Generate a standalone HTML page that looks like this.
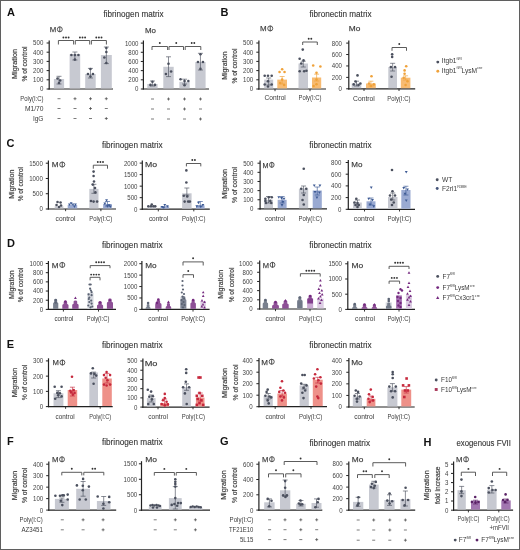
<!DOCTYPE html>
<html><head><meta charset="utf-8"><style>
html,body{margin:0;padding:0;background:#fff;}
.frame{position:absolute;left:0;top:0;width:518px;height:548px;border:1px solid #5f5f5f;}
body{width:520px;height:550px;overflow:hidden;position:relative;}
svg{display:block;font-family:"Liberation Sans", sans-serif;filter:blur(0.3px);}
.b{stroke:rgba(50,50,50,0.6);stroke-width:0.25px;}
.t{stroke:rgba(50,50,50,0.5);stroke-width:0.2px;}
</style></head><body>
<svg width="520" height="550" viewBox="0 0 520 550">
<rect x="0" y="0" width="520" height="550" fill="#fff"/>
<text x="10.9" y="16.1" font-size="11" font-weight="bold" fill="#111" text-anchor="middle">A</text>
<text class="t" x="103.5" y="17.3" font-size="8.3" fill="#333" textLength="60.0" lengthAdjust="spacingAndGlyphs">fibrinogen matrix</text>
<text class="b" transform="translate(16.5,64.0) rotate(-90)" x="0" y="0" font-size="7.2" fill="#3a3a3a" text-anchor="middle" textLength="30.0" lengthAdjust="spacingAndGlyphs">Migration</text>
<text class="b" transform="translate(26.6,64.0) rotate(-90)" x="0" y="0" font-size="7.2" fill="#3a3a3a" text-anchor="middle" textLength="35.1" lengthAdjust="spacingAndGlyphs">% of control</text>
<text class="b" x="49.8" y="32.1" font-size="7.6" fill="#3a3a3a" textLength="6.5" lengthAdjust="spacingAndGlyphs">M</text>
<ellipse cx="59.80" cy="29.33" rx="2.45" ry="2.52" fill="none" stroke="#3a3a3a" stroke-width="0.85"/>
<line x1="59.80" y1="26.66" x2="59.80" y2="32.00" stroke="#3a3a3a" stroke-width="0.9"/>
<line x1="49.20" y1="40.40" x2="49.20" y2="89.60" stroke="#222" stroke-width="1.2"/>
<line x1="48.60" y1="89.00" x2="113.00" y2="89.00" stroke="#222" stroke-width="1.2"/>
<line x1="46.60" y1="89.00" x2="49.20" y2="89.00" stroke="#222" stroke-width="1.0"/>
<text x="39.90" y="91.4" font-size="6.6" fill="#444" textLength="3.40" lengthAdjust="spacingAndGlyphs">0</text>
<line x1="46.60" y1="79.80" x2="49.20" y2="79.80" stroke="#222" stroke-width="1.0"/>
<text x="33.10" y="82.2" font-size="6.6" fill="#444" textLength="10.20" lengthAdjust="spacingAndGlyphs">100</text>
<line x1="46.60" y1="70.60" x2="49.20" y2="70.60" stroke="#222" stroke-width="1.0"/>
<text x="33.10" y="73.0" font-size="6.6" fill="#444" textLength="10.20" lengthAdjust="spacingAndGlyphs">200</text>
<line x1="46.60" y1="61.40" x2="49.20" y2="61.40" stroke="#222" stroke-width="1.0"/>
<text x="33.10" y="63.8" font-size="6.6" fill="#444" textLength="10.20" lengthAdjust="spacingAndGlyphs">300</text>
<line x1="46.60" y1="52.20" x2="49.20" y2="52.20" stroke="#222" stroke-width="1.0"/>
<text x="33.10" y="54.6" font-size="6.6" fill="#444" textLength="10.20" lengthAdjust="spacingAndGlyphs">400</text>
<line x1="46.60" y1="43.00" x2="49.20" y2="43.00" stroke="#222" stroke-width="1.0"/>
<text x="33.10" y="45.4" font-size="6.6" fill="#444" textLength="10.20" lengthAdjust="spacingAndGlyphs">500</text>
<rect x="53.90" y="79.00" width="10.20" height="9.40" fill="#c7c9d1"/>
<line x1="59.00" y1="84.00" x2="59.00" y2="76.30" stroke="#4b505e" stroke-width="0.65"/>
<line x1="56.50" y1="76.30" x2="61.50" y2="76.30" stroke="#4b505e" stroke-width="0.65"/>
<line x1="56.50" y1="84.00" x2="61.50" y2="84.00" stroke="#4b505e" stroke-width="0.65"/>
<circle cx="57.50" cy="78.50" r="1.3" fill="#4b505e"/>
<circle cx="60.20" cy="80.50" r="1.3" fill="#4b505e"/>
<circle cx="59.00" cy="83.00" r="1.3" fill="#4b505e"/>
<rect x="69.60" y="54.30" width="10.60" height="34.10" fill="#c7c9d1"/>
<line x1="74.90" y1="60.00" x2="74.90" y2="52.00" stroke="#4b505e" stroke-width="0.65"/>
<line x1="72.40" y1="52.00" x2="77.40" y2="52.00" stroke="#4b505e" stroke-width="0.65"/>
<line x1="72.40" y1="60.00" x2="77.40" y2="60.00" stroke="#4b505e" stroke-width="0.65"/>
<circle cx="71.40" cy="55.00" r="1.3" fill="#4b505e"/>
<circle cx="74.90" cy="55.00" r="1.3" fill="#4b505e"/>
<circle cx="78.40" cy="55.00" r="1.3" fill="#4b505e"/>
<circle cx="74.90" cy="59.60" r="1.3" fill="#4b505e"/>
<rect x="85.20" y="74.00" width="10.50" height="14.40" fill="#c7c9d1"/>
<line x1="90.45" y1="78.00" x2="90.45" y2="68.40" stroke="#4b505e" stroke-width="0.65"/>
<line x1="87.95" y1="68.40" x2="92.95" y2="68.40" stroke="#4b505e" stroke-width="0.65"/>
<line x1="87.95" y1="78.00" x2="92.95" y2="78.00" stroke="#4b505e" stroke-width="0.65"/>
<circle cx="90.45" cy="69.00" r="1.3" fill="#4b505e"/>
<circle cx="87.95" cy="74.00" r="1.3" fill="#4b505e"/>
<circle cx="92.95" cy="74.00" r="1.3" fill="#4b505e"/>
<circle cx="90.45" cy="76.50" r="1.3" fill="#4b505e"/>
<rect x="100.90" y="55.00" width="10.90" height="33.40" fill="#c7c9d1"/>
<line x1="106.35" y1="63.60" x2="106.35" y2="47.00" stroke="#4b505e" stroke-width="0.65"/>
<line x1="103.85" y1="47.00" x2="108.85" y2="47.00" stroke="#4b505e" stroke-width="0.65"/>
<line x1="103.85" y1="63.60" x2="108.85" y2="63.60" stroke="#4b505e" stroke-width="0.65"/>
<circle cx="106.35" cy="48.00" r="1.3" fill="#4b505e"/>
<circle cx="106.35" cy="52.00" r="1.3" fill="#4b505e"/>
<circle cx="104.35" cy="57.50" r="1.3" fill="#4b505e"/>
<circle cx="106.35" cy="63.00" r="1.3" fill="#4b505e"/>
<polyline points="58.40,44.50 58.40,40.50 73.60,40.50 73.60,44.50" fill="none" stroke="#4a4a4a" stroke-width="0.9"/>
<circle cx="63.40" cy="37.50" r="0.95" fill="#333"/>
<circle cx="66.00" cy="37.50" r="0.95" fill="#333"/>
<circle cx="68.60" cy="37.50" r="0.95" fill="#333"/>
<polyline points="75.30,44.50 75.30,40.50 89.70,40.50 89.70,44.50" fill="none" stroke="#4a4a4a" stroke-width="0.9"/>
<circle cx="79.90" cy="37.50" r="0.95" fill="#333"/>
<circle cx="82.50" cy="37.50" r="0.95" fill="#333"/>
<circle cx="85.10" cy="37.50" r="0.95" fill="#333"/>
<polyline points="91.40,44.50 91.40,40.50 106.40,40.50 106.40,44.50" fill="none" stroke="#4a4a4a" stroke-width="0.9"/>
<circle cx="96.30" cy="37.50" r="0.95" fill="#333"/>
<circle cx="98.90" cy="37.50" r="0.95" fill="#333"/>
<circle cx="101.50" cy="37.50" r="0.95" fill="#333"/>
<text x="20.3" y="101.1" font-size="6.6" fill="#3a3a3a" font-weight="normal" textLength="23.2" lengthAdjust="spacingAndGlyphs">Poly(I:C)</text>
<line x1="57.50" y1="98.70" x2="60.50" y2="98.70" stroke="#444" stroke-width="0.7"/>
<line x1="73.50" y1="98.70" x2="76.50" y2="98.70" stroke="#444" stroke-width="0.7"/>
<line x1="75.00" y1="97.20" x2="75.00" y2="100.20" stroke="#444" stroke-width="0.7"/>
<line x1="89.00" y1="98.70" x2="92.00" y2="98.70" stroke="#444" stroke-width="0.7"/>
<line x1="90.50" y1="97.20" x2="90.50" y2="100.20" stroke="#444" stroke-width="0.7"/>
<line x1="104.80" y1="98.70" x2="107.80" y2="98.70" stroke="#444" stroke-width="0.7"/>
<line x1="106.30" y1="97.20" x2="106.30" y2="100.20" stroke="#444" stroke-width="0.7"/>
<text x="24.9" y="110.9" font-size="6.6" fill="#3a3a3a" font-weight="normal" textLength="18.6" lengthAdjust="spacingAndGlyphs">M1/70</text>
<line x1="57.50" y1="108.50" x2="60.50" y2="108.50" stroke="#444" stroke-width="0.7"/>
<line x1="73.50" y1="108.50" x2="76.50" y2="108.50" stroke="#444" stroke-width="0.7"/>
<line x1="89.00" y1="108.50" x2="92.00" y2="108.50" stroke="#444" stroke-width="0.7"/>
<line x1="90.50" y1="107.00" x2="90.50" y2="110.00" stroke="#444" stroke-width="0.7"/>
<line x1="104.80" y1="108.50" x2="107.80" y2="108.50" stroke="#444" stroke-width="0.7"/>
<text x="32.9" y="120.9" font-size="6.6" fill="#3a3a3a" font-weight="normal" textLength="10.6" lengthAdjust="spacingAndGlyphs">IgG</text>
<line x1="57.50" y1="118.50" x2="60.50" y2="118.50" stroke="#444" stroke-width="0.7"/>
<line x1="73.50" y1="118.50" x2="76.50" y2="118.50" stroke="#444" stroke-width="0.7"/>
<line x1="89.00" y1="118.50" x2="92.00" y2="118.50" stroke="#444" stroke-width="0.7"/>
<line x1="104.80" y1="118.50" x2="107.80" y2="118.50" stroke="#444" stroke-width="0.7"/>
<line x1="106.30" y1="117.00" x2="106.30" y2="120.00" stroke="#444" stroke-width="0.7"/>
<text class="b" x="145.0" y="32.6" font-size="7.6" fill="#3a3a3a" textLength="11.0" lengthAdjust="spacingAndGlyphs">Mo</text>
<line x1="143.40" y1="40.50" x2="143.40" y2="89.60" stroke="#222" stroke-width="1.2"/>
<line x1="142.80" y1="89.00" x2="209.00" y2="89.00" stroke="#222" stroke-width="1.2"/>
<line x1="140.80" y1="89.00" x2="143.40" y2="89.00" stroke="#222" stroke-width="1.0"/>
<text x="135.10" y="91.4" font-size="6.6" fill="#444" textLength="3.40" lengthAdjust="spacingAndGlyphs">0</text>
<line x1="140.80" y1="79.82" x2="143.40" y2="79.82" stroke="#222" stroke-width="1.0"/>
<text x="128.30" y="82.2" font-size="6.6" fill="#444" textLength="10.20" lengthAdjust="spacingAndGlyphs">200</text>
<line x1="140.80" y1="70.64" x2="143.40" y2="70.64" stroke="#222" stroke-width="1.0"/>
<text x="128.30" y="73.0" font-size="6.6" fill="#444" textLength="10.20" lengthAdjust="spacingAndGlyphs">400</text>
<line x1="140.80" y1="61.46" x2="143.40" y2="61.46" stroke="#222" stroke-width="1.0"/>
<text x="128.30" y="63.8" font-size="6.6" fill="#444" textLength="10.20" lengthAdjust="spacingAndGlyphs">600</text>
<line x1="140.80" y1="52.28" x2="143.40" y2="52.28" stroke="#222" stroke-width="1.0"/>
<text x="128.30" y="54.7" font-size="6.6" fill="#444" textLength="10.20" lengthAdjust="spacingAndGlyphs">800</text>
<line x1="140.80" y1="43.10" x2="143.40" y2="43.10" stroke="#222" stroke-width="1.0"/>
<text x="124.90" y="45.5" font-size="6.6" fill="#444" textLength="13.60" lengthAdjust="spacingAndGlyphs">1000</text>
<rect x="147.30" y="84.00" width="10.30" height="4.40" fill="#c7c9d1"/>
<line x1="152.45" y1="86.00" x2="152.45" y2="81.00" stroke="#4b505e" stroke-width="0.65"/>
<line x1="149.95" y1="81.00" x2="154.95" y2="81.00" stroke="#4b505e" stroke-width="0.65"/>
<line x1="149.95" y1="86.00" x2="154.95" y2="86.00" stroke="#4b505e" stroke-width="0.65"/>
<circle cx="150.45" cy="84.90" r="1.3" fill="#4b505e"/>
<circle cx="152.45" cy="81.80" r="1.3" fill="#4b505e"/>
<circle cx="154.95" cy="84.90" r="1.3" fill="#4b505e"/>
<rect x="163.30" y="66.80" width="10.40" height="21.60" fill="#c7c9d1"/>
<line x1="168.50" y1="76.60" x2="168.50" y2="56.80" stroke="#4b505e" stroke-width="0.65"/>
<line x1="166.00" y1="56.80" x2="171.00" y2="56.80" stroke="#4b505e" stroke-width="0.65"/>
<line x1="166.00" y1="76.60" x2="171.00" y2="76.60" stroke="#4b505e" stroke-width="0.65"/>
<circle cx="168.50" cy="63.70" r="1.3" fill="#4b505e"/>
<circle cx="165.90" cy="74.00" r="1.3" fill="#4b505e"/>
<circle cx="171.10" cy="71.50" r="1.3" fill="#4b505e"/>
<rect x="179.40" y="81.80" width="10.30" height="6.60" fill="#c7c9d1"/>
<line x1="184.55" y1="84.00" x2="184.55" y2="79.20" stroke="#4b505e" stroke-width="0.65"/>
<line x1="182.05" y1="79.20" x2="187.05" y2="79.20" stroke="#4b505e" stroke-width="0.65"/>
<line x1="182.05" y1="84.00" x2="187.05" y2="84.00" stroke="#4b505e" stroke-width="0.65"/>
<circle cx="180.55" cy="79.20" r="1.3" fill="#4b505e"/>
<circle cx="184.55" cy="81.00" r="1.3" fill="#4b505e"/>
<circle cx="188.35" cy="81.00" r="1.3" fill="#4b505e"/>
<circle cx="184.55" cy="85.30" r="1.3" fill="#4b505e"/>
<rect x="195.30" y="62.00" width="10.30" height="26.40" fill="#c7c9d1"/>
<line x1="200.45" y1="70.00" x2="200.45" y2="53.30" stroke="#4b505e" stroke-width="0.65"/>
<line x1="197.95" y1="53.30" x2="202.95" y2="53.30" stroke="#4b505e" stroke-width="0.65"/>
<line x1="197.95" y1="70.00" x2="202.95" y2="70.00" stroke="#4b505e" stroke-width="0.65"/>
<circle cx="200.45" cy="54.20" r="1.3" fill="#4b505e"/>
<circle cx="197.95" cy="62.00" r="1.3" fill="#4b505e"/>
<circle cx="202.95" cy="62.00" r="1.3" fill="#4b505e"/>
<circle cx="200.45" cy="68.90" r="1.3" fill="#4b505e"/>
<polyline points="152.00,50.00 152.00,46.50 167.60,46.50 167.60,50.00" fill="none" stroke="#4a4a4a" stroke-width="0.9"/>
<circle cx="159.80" cy="43.00" r="0.95" fill="#333"/>
<polyline points="169.00,50.00 169.00,46.50 183.50,46.50 183.50,50.00" fill="none" stroke="#4a4a4a" stroke-width="0.9"/>
<circle cx="176.25" cy="43.00" r="0.95" fill="#333"/>
<polyline points="185.20,50.00 185.20,46.50 200.80,46.50 200.80,50.00" fill="none" stroke="#4a4a4a" stroke-width="0.9"/>
<circle cx="191.70" cy="43.00" r="0.95" fill="#333"/>
<circle cx="194.30" cy="43.00" r="0.95" fill="#333"/>
<text x="130.0" y="101.4" font-size="6.6" fill="#3a3a3a" font-weight="normal" textLength="0.0" lengthAdjust="spacingAndGlyphs"></text>
<line x1="151.00" y1="99.00" x2="154.00" y2="99.00" stroke="#444" stroke-width="0.7"/>
<line x1="167.00" y1="99.00" x2="170.00" y2="99.00" stroke="#444" stroke-width="0.7"/>
<line x1="168.50" y1="97.50" x2="168.50" y2="100.50" stroke="#444" stroke-width="0.7"/>
<line x1="183.00" y1="99.00" x2="186.00" y2="99.00" stroke="#444" stroke-width="0.7"/>
<line x1="184.50" y1="97.50" x2="184.50" y2="100.50" stroke="#444" stroke-width="0.7"/>
<line x1="199.00" y1="99.00" x2="202.00" y2="99.00" stroke="#444" stroke-width="0.7"/>
<line x1="200.50" y1="97.50" x2="200.50" y2="100.50" stroke="#444" stroke-width="0.7"/>
<text x="130.0" y="111.4" font-size="6.6" fill="#3a3a3a" font-weight="normal" textLength="0.0" lengthAdjust="spacingAndGlyphs"></text>
<line x1="151.00" y1="109.00" x2="154.00" y2="109.00" stroke="#444" stroke-width="0.7"/>
<line x1="167.00" y1="109.00" x2="170.00" y2="109.00" stroke="#444" stroke-width="0.7"/>
<line x1="183.00" y1="109.00" x2="186.00" y2="109.00" stroke="#444" stroke-width="0.7"/>
<line x1="184.50" y1="107.50" x2="184.50" y2="110.50" stroke="#444" stroke-width="0.7"/>
<line x1="199.00" y1="109.00" x2="202.00" y2="109.00" stroke="#444" stroke-width="0.7"/>
<text x="130.0" y="121.4" font-size="6.6" fill="#3a3a3a" font-weight="normal" textLength="0.0" lengthAdjust="spacingAndGlyphs"></text>
<line x1="151.00" y1="119.00" x2="154.00" y2="119.00" stroke="#444" stroke-width="0.7"/>
<line x1="167.00" y1="119.00" x2="170.00" y2="119.00" stroke="#444" stroke-width="0.7"/>
<line x1="183.00" y1="119.00" x2="186.00" y2="119.00" stroke="#444" stroke-width="0.7"/>
<line x1="199.00" y1="119.00" x2="202.00" y2="119.00" stroke="#444" stroke-width="0.7"/>
<line x1="200.50" y1="117.50" x2="200.50" y2="120.50" stroke="#444" stroke-width="0.7"/>
<text x="224.5" y="16.3" font-size="11" font-weight="bold" fill="#111" text-anchor="middle">B</text>
<text class="t" x="309.4" y="17.3" font-size="8.3" fill="#333" textLength="62.1" lengthAdjust="spacingAndGlyphs">fibronectin matrix</text>
<text class="b" transform="translate(227.3,65.6) rotate(-90)" x="0" y="0" font-size="7.2" fill="#3a3a3a" text-anchor="middle" textLength="28.4" lengthAdjust="spacingAndGlyphs">Migration</text>
<text class="b" transform="translate(237.3,66.1) rotate(-90)" x="0" y="0" font-size="7.2" fill="#3a3a3a" text-anchor="middle" textLength="35.0" lengthAdjust="spacingAndGlyphs">% of control</text>
<text class="b" x="260.0" y="31.2" font-size="7.6" fill="#3a3a3a" textLength="6.6" lengthAdjust="spacingAndGlyphs">M</text>
<ellipse cx="270.23" cy="28.43" rx="2.51" ry="2.52" fill="none" stroke="#3a3a3a" stroke-width="0.85"/>
<line x1="270.23" y1="25.76" x2="270.23" y2="31.10" stroke="#3a3a3a" stroke-width="0.9"/>
<line x1="258.90" y1="40.40" x2="258.90" y2="89.60" stroke="#222" stroke-width="1.2"/>
<line x1="258.30" y1="89.00" x2="326.00" y2="89.00" stroke="#222" stroke-width="1.2"/>
<line x1="256.30" y1="89.00" x2="258.90" y2="89.00" stroke="#222" stroke-width="1.0"/>
<text x="249.80" y="91.4" font-size="6.6" fill="#444" textLength="3.40" lengthAdjust="spacingAndGlyphs">0</text>
<line x1="256.30" y1="79.80" x2="258.90" y2="79.80" stroke="#222" stroke-width="1.0"/>
<text x="243.00" y="82.2" font-size="6.6" fill="#444" textLength="10.20" lengthAdjust="spacingAndGlyphs">100</text>
<line x1="256.30" y1="70.60" x2="258.90" y2="70.60" stroke="#222" stroke-width="1.0"/>
<text x="243.00" y="73.0" font-size="6.6" fill="#444" textLength="10.20" lengthAdjust="spacingAndGlyphs">200</text>
<line x1="256.30" y1="61.40" x2="258.90" y2="61.40" stroke="#222" stroke-width="1.0"/>
<text x="243.00" y="63.8" font-size="6.6" fill="#444" textLength="10.20" lengthAdjust="spacingAndGlyphs">300</text>
<line x1="256.30" y1="52.20" x2="258.90" y2="52.20" stroke="#222" stroke-width="1.0"/>
<text x="243.00" y="54.6" font-size="6.6" fill="#444" textLength="10.20" lengthAdjust="spacingAndGlyphs">400</text>
<line x1="256.30" y1="43.00" x2="258.90" y2="43.00" stroke="#222" stroke-width="1.0"/>
<text x="243.00" y="45.4" font-size="6.6" fill="#444" textLength="10.20" lengthAdjust="spacingAndGlyphs">500</text>
<line x1="275.00" y1="89.00" x2="275.00" y2="91.20" stroke="#222" stroke-width="0.9"/>
<line x1="310.00" y1="89.00" x2="310.00" y2="91.20" stroke="#222" stroke-width="0.9"/>
<rect x="264.20" y="79.60" width="9.00" height="8.80" fill="#c7c9d1"/>
<line x1="268.70" y1="85.00" x2="268.70" y2="78.00" stroke="#4b505e" stroke-width="0.65"/>
<line x1="266.20" y1="78.00" x2="271.20" y2="78.00" stroke="#4b505e" stroke-width="0.65"/>
<line x1="266.20" y1="85.00" x2="271.20" y2="85.00" stroke="#4b505e" stroke-width="0.65"/>
<circle cx="264.70" cy="75.80" r="1.3" fill="#4b505e"/>
<circle cx="268.00" cy="75.80" r="1.3" fill="#4b505e"/>
<circle cx="271.70" cy="75.80" r="1.3" fill="#4b505e"/>
<circle cx="268.00" cy="81.20" r="1.3" fill="#4b505e"/>
<circle cx="264.70" cy="84.50" r="1.3" fill="#4b505e"/>
<circle cx="271.70" cy="84.50" r="1.3" fill="#4b505e"/>
<circle cx="268.00" cy="86.50" r="1.3" fill="#4b505e"/>
<rect x="277.30" y="79.60" width="9.70" height="8.80" fill="#f7bb72"/>
<line x1="282.15" y1="84.00" x2="282.15" y2="76.50" stroke="#f0a23a" stroke-width="0.65"/>
<line x1="279.65" y1="76.50" x2="284.65" y2="76.50" stroke="#f0a23a" stroke-width="0.65"/>
<line x1="279.65" y1="84.00" x2="284.65" y2="84.00" stroke="#f0a23a" stroke-width="0.65"/>
<circle cx="282.15" cy="69.20" r="1.3" fill="#f0a23a"/>
<circle cx="279.55" cy="72.00" r="1.3" fill="#f0a23a"/>
<circle cx="284.55" cy="72.00" r="1.3" fill="#f0a23a"/>
<circle cx="282.15" cy="79.60" r="1.3" fill="#f0a23a"/>
<circle cx="280.15" cy="83.00" r="1.3" fill="#f0a23a"/>
<circle cx="284.15" cy="85.00" r="1.3" fill="#f0a23a"/>
<rect x="298.50" y="63.50" width="9.50" height="24.90" fill="#c7c9d1"/>
<line x1="303.25" y1="67.00" x2="303.25" y2="61.20" stroke="#4b505e" stroke-width="0.65"/>
<line x1="300.75" y1="61.20" x2="305.75" y2="61.20" stroke="#4b505e" stroke-width="0.65"/>
<line x1="300.75" y1="67.00" x2="305.75" y2="67.00" stroke="#4b505e" stroke-width="0.65"/>
<circle cx="302.75" cy="49.60" r="1.3" fill="#4b505e"/>
<circle cx="299.65" cy="58.80" r="1.3" fill="#4b505e"/>
<circle cx="303.55" cy="60.40" r="1.3" fill="#4b505e"/>
<circle cx="301.25" cy="63.50" r="1.3" fill="#4b505e"/>
<circle cx="299.65" cy="71.20" r="1.3" fill="#4b505e"/>
<circle cx="304.15" cy="71.20" r="1.3" fill="#4b505e"/>
<circle cx="306.45" cy="70.70" r="1.3" fill="#4b505e"/>
<rect x="312.00" y="77.50" width="9.20" height="10.90" fill="#f7bb72"/>
<line x1="316.60" y1="81.00" x2="316.60" y2="74.20" stroke="#f0a23a" stroke-width="0.65"/>
<line x1="314.10" y1="74.20" x2="319.10" y2="74.20" stroke="#f0a23a" stroke-width="0.65"/>
<line x1="314.10" y1="81.00" x2="319.10" y2="81.00" stroke="#f0a23a" stroke-width="0.65"/>
<circle cx="313.20" cy="65.50" r="1.3" fill="#f0a23a"/>
<circle cx="320.40" cy="66.50" r="1.3" fill="#f0a23a"/>
<circle cx="316.50" cy="72.70" r="1.3" fill="#f0a23a"/>
<circle cx="316.50" cy="79.60" r="1.3" fill="#f0a23a"/>
<circle cx="316.50" cy="84.20" r="1.3" fill="#f0a23a"/>
<circle cx="313.60" cy="86.00" r="1.3" fill="#f0a23a"/>
<polyline points="302.70,45.00 302.70,42.00 317.30,42.00 317.30,45.00" fill="none" stroke="#4a4a4a" stroke-width="0.9"/>
<circle cx="308.70" cy="38.80" r="0.95" fill="#333"/>
<circle cx="311.30" cy="38.80" r="0.95" fill="#333"/>
<text x="264.5" y="100.4" font-size="6.8" fill="#3a3a3a" font-weight="normal" textLength="21.3" lengthAdjust="spacingAndGlyphs">Control</text>
<text x="298.5" y="100.4" font-size="6.8" fill="#3a3a3a" font-weight="normal" textLength="23.0" lengthAdjust="spacingAndGlyphs">Poly(I:C)</text>
<text class="b" x="348.8" y="31.3" font-size="7.6" fill="#3a3a3a" textLength="11.6" lengthAdjust="spacingAndGlyphs">Mo</text>
<line x1="348.80" y1="40.50" x2="348.80" y2="89.40" stroke="#222" stroke-width="1.2"/>
<line x1="348.20" y1="88.80" x2="415.20" y2="88.80" stroke="#222" stroke-width="1.2"/>
<line x1="346.20" y1="88.80" x2="348.80" y2="88.80" stroke="#222" stroke-width="1.0"/>
<text x="338.60" y="91.2" font-size="6.6" fill="#444" textLength="3.40" lengthAdjust="spacingAndGlyphs">0</text>
<line x1="346.20" y1="77.38" x2="348.80" y2="77.38" stroke="#222" stroke-width="1.0"/>
<text x="331.80" y="79.8" font-size="6.6" fill="#444" textLength="10.20" lengthAdjust="spacingAndGlyphs">200</text>
<line x1="346.20" y1="65.95" x2="348.80" y2="65.95" stroke="#222" stroke-width="1.0"/>
<text x="331.80" y="68.3" font-size="6.6" fill="#444" textLength="10.20" lengthAdjust="spacingAndGlyphs">400</text>
<line x1="346.20" y1="54.52" x2="348.80" y2="54.52" stroke="#222" stroke-width="1.0"/>
<text x="331.80" y="56.9" font-size="6.6" fill="#444" textLength="10.20" lengthAdjust="spacingAndGlyphs">600</text>
<line x1="346.20" y1="43.10" x2="348.80" y2="43.10" stroke="#222" stroke-width="1.0"/>
<text x="331.80" y="45.5" font-size="6.6" fill="#444" textLength="10.20" lengthAdjust="spacingAndGlyphs">800</text>
<line x1="364.00" y1="88.80" x2="364.00" y2="91.00" stroke="#222" stroke-width="0.9"/>
<line x1="399.00" y1="88.80" x2="399.00" y2="91.00" stroke="#222" stroke-width="0.9"/>
<rect x="351.70" y="83.50" width="9.60" height="4.70" fill="#c7c9d1"/>
<line x1="356.50" y1="86.00" x2="356.50" y2="81.20" stroke="#4b505e" stroke-width="0.65"/>
<line x1="354.00" y1="81.20" x2="359.00" y2="81.20" stroke="#4b505e" stroke-width="0.65"/>
<line x1="354.00" y1="86.00" x2="359.00" y2="86.00" stroke="#4b505e" stroke-width="0.65"/>
<circle cx="357.50" cy="75.40" r="1.3" fill="#4b505e"/>
<circle cx="355.60" cy="81.50" r="1.3" fill="#4b505e"/>
<circle cx="353.70" cy="84.40" r="1.3" fill="#4b505e"/>
<circle cx="358.50" cy="85.00" r="1.3" fill="#4b505e"/>
<circle cx="360.40" cy="83.50" r="1.3" fill="#4b505e"/>
<rect x="366.00" y="83.50" width="9.80" height="4.70" fill="#f7bb72"/>
<line x1="370.90" y1="86.00" x2="370.90" y2="81.20" stroke="#f0a23a" stroke-width="0.65"/>
<line x1="368.40" y1="81.20" x2="373.40" y2="81.20" stroke="#f0a23a" stroke-width="0.65"/>
<line x1="368.40" y1="86.00" x2="373.40" y2="86.00" stroke="#f0a23a" stroke-width="0.65"/>
<circle cx="371.50" cy="76.20" r="1.3" fill="#f0a23a"/>
<circle cx="369.00" cy="83.50" r="1.3" fill="#f0a23a"/>
<circle cx="373.80" cy="84.40" r="1.3" fill="#f0a23a"/>
<circle cx="370.90" cy="86.00" r="1.3" fill="#f0a23a"/>
<rect x="388.30" y="67.00" width="8.70" height="21.20" fill="#c7c9d1"/>
<line x1="392.65" y1="71.00" x2="392.65" y2="63.30" stroke="#4b505e" stroke-width="0.65"/>
<line x1="390.15" y1="63.30" x2="395.15" y2="63.30" stroke="#4b505e" stroke-width="0.65"/>
<line x1="390.15" y1="71.00" x2="395.15" y2="71.00" stroke="#4b505e" stroke-width="0.65"/>
<circle cx="392.15" cy="54.20" r="1.3" fill="#4b505e"/>
<circle cx="392.15" cy="56.90" r="1.3" fill="#4b505e"/>
<circle cx="390.85" cy="67.10" r="1.3" fill="#4b505e"/>
<circle cx="395.05" cy="67.10" r="1.3" fill="#4b505e"/>
<circle cx="391.55" cy="76.70" r="1.3" fill="#4b505e"/>
<rect x="400.80" y="77.70" width="9.60" height="10.50" fill="#f7bb72"/>
<line x1="405.60" y1="80.00" x2="405.60" y2="75.80" stroke="#f0a23a" stroke-width="0.65"/>
<line x1="403.10" y1="75.80" x2="408.10" y2="75.80" stroke="#f0a23a" stroke-width="0.65"/>
<line x1="403.10" y1="80.00" x2="408.10" y2="80.00" stroke="#f0a23a" stroke-width="0.65"/>
<circle cx="406.20" cy="66.20" r="1.3" fill="#f0a23a"/>
<circle cx="404.60" cy="70.40" r="1.3" fill="#f0a23a"/>
<circle cx="404.60" cy="73.80" r="1.3" fill="#f0a23a"/>
<circle cx="403.70" cy="77.70" r="1.3" fill="#f0a23a"/>
<circle cx="407.50" cy="81.20" r="1.3" fill="#f0a23a"/>
<circle cx="405.60" cy="85.00" r="1.3" fill="#f0a23a"/>
<polyline points="392.00,50.80 392.00,47.50 406.50,47.50 406.50,50.80" fill="none" stroke="#4a4a4a" stroke-width="0.9"/>
<circle cx="399.25" cy="44.00" r="0.95" fill="#333"/>
<text x="353.0" y="100.9" font-size="6.8" fill="#3a3a3a" font-weight="normal" textLength="21.8" lengthAdjust="spacingAndGlyphs">Control</text>
<text x="387.3" y="100.9" font-size="6.8" fill="#3a3a3a" font-weight="normal" textLength="23.1" lengthAdjust="spacingAndGlyphs">Poly(I:C)</text>
<circle cx="437.80" cy="62.10" r="1.45" fill="#4b505e"/>
<text x="441.8" y="63.4" font-size="6.65" fill="#3a3a3a"><tspan dy="0.0">Itgb1</tspan><tspan font-size="3.86" dy="-3.3">fl/fl</tspan></text>
<circle cx="437.80" cy="71.30" r="1.45" fill="#f0a23a"/>
<text x="441.8" y="72.6" font-size="6.65" fill="#3a3a3a"><tspan dy="0.0">Itgb1</tspan><tspan font-size="3.86" dy="-3.3">fl/fl</tspan><tspan dy="3.3">LysM</tspan><tspan font-size="3.86" dy="-3.3">cre</tspan></text>
<text x="10.4" y="147.1" font-size="11" font-weight="bold" fill="#111" text-anchor="middle">C</text>
<text class="t" x="101.9" y="147.7" font-size="8.3" fill="#333" textLength="60.8" lengthAdjust="spacingAndGlyphs">fibrinogen matrix</text>
<text class="t" x="309.3" y="147.9" font-size="8.3" fill="#333" textLength="62.2" lengthAdjust="spacingAndGlyphs">fibronectin matrix</text>
<text class="b" transform="translate(13.8,184.2) rotate(-90)" x="0" y="0" font-size="6.6" fill="#3a3a3a" text-anchor="middle" textLength="29.3" lengthAdjust="spacingAndGlyphs">Migration</text>
<text class="b" transform="translate(23.4,184.2) rotate(-90)" x="0" y="0" font-size="6.6" fill="#3a3a3a" text-anchor="middle" textLength="34.3" lengthAdjust="spacingAndGlyphs">% of control</text>
<text class="b" x="51.8" y="167.3" font-size="7.6" fill="#3a3a3a" textLength="6.8" lengthAdjust="spacingAndGlyphs">M</text>
<ellipse cx="62.26" cy="164.53" rx="2.56" ry="2.52" fill="none" stroke="#3a3a3a" stroke-width="0.85"/>
<line x1="62.26" y1="161.86" x2="62.26" y2="167.20" stroke="#3a3a3a" stroke-width="0.9"/>
<line x1="48.40" y1="160.60" x2="48.40" y2="209.60" stroke="#222" stroke-width="1.2"/>
<line x1="47.80" y1="209.00" x2="116.00" y2="209.00" stroke="#222" stroke-width="1.2"/>
<line x1="45.80" y1="209.00" x2="48.40" y2="209.00" stroke="#222" stroke-width="1.0"/>
<text x="39.40" y="211.4" font-size="6.6" fill="#444" textLength="3.40" lengthAdjust="spacingAndGlyphs">0</text>
<line x1="45.80" y1="193.73" x2="48.40" y2="193.73" stroke="#222" stroke-width="1.0"/>
<text x="32.60" y="196.1" font-size="6.6" fill="#444" textLength="10.20" lengthAdjust="spacingAndGlyphs">500</text>
<line x1="45.80" y1="178.47" x2="48.40" y2="178.47" stroke="#222" stroke-width="1.0"/>
<text x="29.20" y="180.8" font-size="6.6" fill="#444" textLength="13.60" lengthAdjust="spacingAndGlyphs">1000</text>
<line x1="45.80" y1="163.20" x2="48.40" y2="163.20" stroke="#222" stroke-width="1.0"/>
<text x="29.20" y="165.6" font-size="6.6" fill="#444" textLength="13.60" lengthAdjust="spacingAndGlyphs">1500</text>
<line x1="65.60" y1="209.00" x2="65.60" y2="211.20" stroke="#222" stroke-width="0.9"/>
<line x1="100.90" y1="209.00" x2="100.90" y2="211.20" stroke="#222" stroke-width="0.9"/>
<rect x="54.70" y="206.20" width="8.70" height="2.20" fill="#c7c9d1"/>
<circle cx="57.55" cy="202.00" r="1.3" fill="#4b505e"/>
<circle cx="60.55" cy="202.50" r="1.3" fill="#4b505e"/>
<circle cx="56.55" cy="205.00" r="1.3" fill="#4b505e"/>
<circle cx="61.05" cy="205.50" r="1.3" fill="#4b505e"/>
<circle cx="59.05" cy="207.00" r="1.3" fill="#4b505e"/>
<rect x="67.70" y="205.00" width="9.50" height="3.40" fill="#9aaad2"/>
<polygon points="69.45,206.06 68.02,203.46 70.88,203.46" fill="#3d5a94"/>
<polygon points="72.95,206.06 71.52,203.46 74.38,203.46" fill="#3d5a94"/>
<polygon points="75.45,206.06 74.02,203.46 76.88,203.46" fill="#3d5a94"/>
<polygon points="71.15,204.96 69.72,202.36 72.58,202.36" fill="#3d5a94"/>
<polygon points="74.45,208.06 73.02,205.46 75.88,205.46" fill="#3d5a94"/>
<rect x="89.30" y="188.90" width="9.20" height="19.50" fill="#c7c9d1"/>
<line x1="93.90" y1="193.30" x2="93.90" y2="184.30" stroke="#4b505e" stroke-width="0.65"/>
<line x1="91.40" y1="184.30" x2="96.40" y2="184.30" stroke="#4b505e" stroke-width="0.65"/>
<line x1="91.40" y1="193.30" x2="96.40" y2="193.30" stroke="#4b505e" stroke-width="0.65"/>
<circle cx="93.60" cy="171.60" r="1.3" fill="#4b505e"/>
<circle cx="93.60" cy="176.00" r="1.3" fill="#4b505e"/>
<circle cx="94.00" cy="181.50" r="1.3" fill="#4b505e"/>
<circle cx="92.80" cy="184.60" r="1.3" fill="#4b505e"/>
<circle cx="95.00" cy="188.00" r="1.3" fill="#4b505e"/>
<circle cx="95.40" cy="192.40" r="1.3" fill="#4b505e"/>
<circle cx="91.00" cy="201.00" r="1.3" fill="#4b505e"/>
<circle cx="93.60" cy="201.60" r="1.3" fill="#4b505e"/>
<circle cx="97.10" cy="201.60" r="1.3" fill="#4b505e"/>
<rect x="103.10" y="204.00" width="8.70" height="4.40" fill="#9aaad2"/>
<line x1="107.45" y1="206.00" x2="107.45" y2="201.50" stroke="#3d5a94" stroke-width="0.65"/>
<line x1="104.95" y1="201.50" x2="109.95" y2="201.50" stroke="#3d5a94" stroke-width="0.65"/>
<line x1="104.95" y1="206.00" x2="109.95" y2="206.00" stroke="#3d5a94" stroke-width="0.65"/>
<polygon points="106.55,201.76 105.12,199.16 107.98,199.16" fill="#3d5a94"/>
<polygon points="104.85,205.16 103.42,202.56 106.28,202.56" fill="#3d5a94"/>
<polygon points="109.15,206.96 107.72,204.36 110.58,204.36" fill="#3d5a94"/>
<polygon points="107.45,207.76 106.02,205.16 108.88,205.16" fill="#3d5a94"/>
<polygon points="110.45,208.06 109.02,205.46 111.88,205.46" fill="#3d5a94"/>
<polyline points="93.30,168.70 93.30,165.20 107.50,165.20 107.50,168.70" fill="none" stroke="#4a4a4a" stroke-width="0.9"/>
<circle cx="97.80" cy="162.00" r="0.95" fill="#333"/>
<circle cx="100.40" cy="162.00" r="0.95" fill="#333"/>
<circle cx="103.00" cy="162.00" r="0.95" fill="#333"/>
<text x="55.6" y="220.7" font-size="6.8" fill="#3a3a3a" font-weight="normal" textLength="19.9" lengthAdjust="spacingAndGlyphs">control</text>
<text x="89.2" y="220.7" font-size="6.8" fill="#3a3a3a" font-weight="normal" textLength="23.0" lengthAdjust="spacingAndGlyphs">Poly(I:C)</text>
<text class="b" x="144.9" y="167.3" font-size="7.6" fill="#3a3a3a" textLength="12.1" lengthAdjust="spacingAndGlyphs">Mo</text>
<line x1="142.30" y1="160.50" x2="142.30" y2="209.80" stroke="#222" stroke-width="1.2"/>
<line x1="141.70" y1="209.20" x2="209.80" y2="209.20" stroke="#222" stroke-width="1.2"/>
<line x1="139.70" y1="209.20" x2="142.30" y2="209.20" stroke="#222" stroke-width="1.0"/>
<text x="134.10" y="211.6" font-size="6.6" fill="#444" textLength="3.40" lengthAdjust="spacingAndGlyphs">0</text>
<line x1="139.70" y1="197.67" x2="142.30" y2="197.67" stroke="#222" stroke-width="1.0"/>
<text x="127.30" y="200.1" font-size="6.6" fill="#444" textLength="10.20" lengthAdjust="spacingAndGlyphs">500</text>
<line x1="139.70" y1="186.15" x2="142.30" y2="186.15" stroke="#222" stroke-width="1.0"/>
<text x="123.90" y="188.5" font-size="6.6" fill="#444" textLength="13.60" lengthAdjust="spacingAndGlyphs">1000</text>
<line x1="139.70" y1="174.62" x2="142.30" y2="174.62" stroke="#222" stroke-width="1.0"/>
<text x="123.90" y="177.0" font-size="6.6" fill="#444" textLength="13.60" lengthAdjust="spacingAndGlyphs">1500</text>
<line x1="139.70" y1="163.10" x2="142.30" y2="163.10" stroke="#222" stroke-width="1.0"/>
<text x="123.90" y="165.5" font-size="6.6" fill="#444" textLength="13.60" lengthAdjust="spacingAndGlyphs">2000</text>
<line x1="158.30" y1="209.20" x2="158.30" y2="211.40" stroke="#222" stroke-width="0.9"/>
<line x1="193.80" y1="209.20" x2="193.80" y2="211.40" stroke="#222" stroke-width="0.9"/>
<rect x="147.50" y="206.70" width="8.50" height="1.90" fill="#c7c9d1"/>
<circle cx="148.35" cy="206.20" r="1.3" fill="#4b505e"/>
<circle cx="150.95" cy="206.20" r="1.3" fill="#4b505e"/>
<circle cx="153.45" cy="206.20" r="1.3" fill="#4b505e"/>
<circle cx="155.25" cy="206.20" r="1.3" fill="#4b505e"/>
<circle cx="151.75" cy="204.50" r="1.3" fill="#4b505e"/>
<rect x="160.50" y="206.20" width="8.60" height="2.40" fill="#9aaad2"/>
<polygon points="162.20,208.56 160.77,205.96 163.63,205.96" fill="#3d5a94"/>
<polygon points="164.80,206.56 163.37,203.96 166.23,203.96" fill="#3d5a94"/>
<polygon points="167.40,207.76 165.97,205.16 168.83,205.16" fill="#3d5a94"/>
<polygon points="163.80,209.06 162.37,206.46 165.23,206.46" fill="#3d5a94"/>
<rect x="182.10" y="193.30" width="9.50" height="15.30" fill="#c7c9d1"/>
<line x1="186.85" y1="195.00" x2="186.85" y2="188.00" stroke="#4b505e" stroke-width="0.65"/>
<line x1="184.35" y1="188.00" x2="189.35" y2="188.00" stroke="#4b505e" stroke-width="0.65"/>
<line x1="184.35" y1="195.00" x2="189.35" y2="195.00" stroke="#4b505e" stroke-width="0.65"/>
<circle cx="186.35" cy="170.40" r="1.3" fill="#4b505e"/>
<circle cx="186.35" cy="182.50" r="1.3" fill="#4b505e"/>
<circle cx="183.75" cy="195.80" r="1.3" fill="#4b505e"/>
<circle cx="187.25" cy="196.40" r="1.3" fill="#4b505e"/>
<circle cx="184.65" cy="201.60" r="1.3" fill="#4b505e"/>
<circle cx="188.15" cy="201.60" r="1.3" fill="#4b505e"/>
<circle cx="189.85" cy="201.60" r="1.3" fill="#4b505e"/>
<rect x="196.00" y="205.40" width="8.60" height="3.20" fill="#9aaad2"/>
<line x1="200.30" y1="206.00" x2="200.30" y2="201.50" stroke="#3d5a94" stroke-width="0.65"/>
<line x1="197.80" y1="201.50" x2="202.80" y2="201.50" stroke="#3d5a94" stroke-width="0.65"/>
<line x1="197.80" y1="206.00" x2="202.80" y2="206.00" stroke="#3d5a94" stroke-width="0.65"/>
<polygon points="198.50,204.36 197.07,201.76 199.93,201.76" fill="#3d5a94"/>
<polygon points="196.80,207.76 195.37,205.16 198.23,205.16" fill="#3d5a94"/>
<polygon points="202.90,206.56 201.47,203.96 204.33,203.96" fill="#3d5a94"/>
<polygon points="200.80,208.36 199.37,205.76 202.23,205.76" fill="#3d5a94"/>
<polyline points="186.40,166.40 186.40,163.50 200.80,163.50 200.80,166.40" fill="none" stroke="#4a4a4a" stroke-width="0.9"/>
<circle cx="192.30" cy="160.00" r="0.95" fill="#333"/>
<circle cx="194.90" cy="160.00" r="0.95" fill="#333"/>
<text x="148.9" y="220.7" font-size="6.8" fill="#3a3a3a" font-weight="normal" textLength="19.4" lengthAdjust="spacingAndGlyphs">control</text>
<text x="182.1" y="220.7" font-size="6.8" fill="#3a3a3a" font-weight="normal" textLength="23.3" lengthAdjust="spacingAndGlyphs">Poly(I:C)</text>
<text class="b" transform="translate(226.5,183.9) rotate(-90)" x="0" y="0" font-size="6.6" fill="#3a3a3a" text-anchor="middle" textLength="29.8" lengthAdjust="spacingAndGlyphs">Migration</text>
<text class="b" transform="translate(237.4,185.0) rotate(-90)" x="0" y="0" font-size="6.6" fill="#3a3a3a" text-anchor="middle" textLength="36.0" lengthAdjust="spacingAndGlyphs">% of control</text>
<text class="b" x="262.5" y="167.6" font-size="7.6" fill="#3a3a3a" textLength="6.0" lengthAdjust="spacingAndGlyphs">M</text>
<ellipse cx="271.80" cy="164.83" rx="2.28" ry="2.52" fill="none" stroke="#3a3a3a" stroke-width="0.85"/>
<line x1="271.80" y1="162.16" x2="271.80" y2="167.50" stroke="#3a3a3a" stroke-width="0.9"/>
<line x1="260.10" y1="160.60" x2="260.10" y2="209.50" stroke="#222" stroke-width="1.2"/>
<line x1="259.50" y1="208.90" x2="327.00" y2="208.90" stroke="#222" stroke-width="1.2"/>
<line x1="257.50" y1="208.90" x2="260.10" y2="208.90" stroke="#222" stroke-width="1.0"/>
<text x="250.00" y="211.3" font-size="6.6" fill="#444" textLength="3.40" lengthAdjust="spacingAndGlyphs">0</text>
<line x1="257.50" y1="199.76" x2="260.10" y2="199.76" stroke="#222" stroke-width="1.0"/>
<text x="243.20" y="202.1" font-size="6.6" fill="#444" textLength="10.20" lengthAdjust="spacingAndGlyphs">100</text>
<line x1="257.50" y1="190.62" x2="260.10" y2="190.62" stroke="#222" stroke-width="1.0"/>
<text x="243.20" y="193.0" font-size="6.6" fill="#444" textLength="10.20" lengthAdjust="spacingAndGlyphs">200</text>
<line x1="257.50" y1="181.48" x2="260.10" y2="181.48" stroke="#222" stroke-width="1.0"/>
<text x="243.20" y="183.9" font-size="6.6" fill="#444" textLength="10.20" lengthAdjust="spacingAndGlyphs">300</text>
<line x1="257.50" y1="172.34" x2="260.10" y2="172.34" stroke="#222" stroke-width="1.0"/>
<text x="243.20" y="174.7" font-size="6.6" fill="#444" textLength="10.20" lengthAdjust="spacingAndGlyphs">400</text>
<line x1="257.50" y1="163.20" x2="260.10" y2="163.20" stroke="#222" stroke-width="1.0"/>
<text x="243.20" y="165.6" font-size="6.6" fill="#444" textLength="10.20" lengthAdjust="spacingAndGlyphs">500</text>
<line x1="275.50" y1="208.90" x2="275.50" y2="211.10" stroke="#222" stroke-width="0.9"/>
<line x1="310.50" y1="208.90" x2="310.50" y2="211.10" stroke="#222" stroke-width="0.9"/>
<rect x="264.00" y="199.80" width="9.00" height="8.50" fill="#c7c9d1"/>
<line x1="268.50" y1="203.00" x2="268.50" y2="196.50" stroke="#4b505e" stroke-width="0.65"/>
<line x1="266.00" y1="196.50" x2="271.00" y2="196.50" stroke="#4b505e" stroke-width="0.65"/>
<line x1="266.00" y1="203.00" x2="271.00" y2="203.00" stroke="#4b505e" stroke-width="0.65"/>
<circle cx="265.40" cy="198.80" r="1.3" fill="#4b505e"/>
<circle cx="268.80" cy="197.30" r="1.3" fill="#4b505e"/>
<circle cx="271.80" cy="197.30" r="1.3" fill="#4b505e"/>
<circle cx="265.40" cy="200.90" r="1.3" fill="#4b505e"/>
<circle cx="270.30" cy="200.90" r="1.3" fill="#4b505e"/>
<circle cx="266.00" cy="203.00" r="1.3" fill="#4b505e"/>
<circle cx="271.30" cy="203.00" r="1.3" fill="#4b505e"/>
<rect x="277.70" y="199.80" width="8.90" height="8.50" fill="#9aaad2"/>
<line x1="282.15" y1="203.00" x2="282.15" y2="196.50" stroke="#3d5a94" stroke-width="0.65"/>
<line x1="279.65" y1="196.50" x2="284.65" y2="196.50" stroke="#3d5a94" stroke-width="0.65"/>
<line x1="279.65" y1="203.00" x2="284.65" y2="203.00" stroke="#3d5a94" stroke-width="0.65"/>
<polygon points="278.80,198.86 277.37,196.26 280.23,196.26" fill="#3d5a94"/>
<polygon points="281.50,199.66 280.07,197.06 282.93,197.06" fill="#3d5a94"/>
<polygon points="284.00,200.36 282.57,197.76 285.43,197.76" fill="#3d5a94"/>
<polygon points="283.00,203.56 281.57,200.96 284.43,200.96" fill="#3d5a94"/>
<polygon points="282.00,206.66 280.57,204.06 283.43,204.06" fill="#3d5a94"/>
<rect x="298.90" y="188.70" width="9.30" height="19.60" fill="#c7c9d1"/>
<line x1="303.55" y1="193.00" x2="303.55" y2="186.00" stroke="#4b505e" stroke-width="0.65"/>
<line x1="301.05" y1="186.00" x2="306.05" y2="186.00" stroke="#4b505e" stroke-width="0.65"/>
<line x1="301.05" y1="193.00" x2="306.05" y2="193.00" stroke="#4b505e" stroke-width="0.65"/>
<circle cx="303.75" cy="168.80" r="1.3" fill="#4b505e"/>
<circle cx="301.25" cy="188.70" r="1.3" fill="#4b505e"/>
<circle cx="306.25" cy="188.70" r="1.3" fill="#4b505e"/>
<circle cx="303.75" cy="195.00" r="1.3" fill="#4b505e"/>
<circle cx="302.55" cy="200.00" r="1.3" fill="#4b505e"/>
<circle cx="303.75" cy="204.50" r="1.3" fill="#4b505e"/>
<rect x="312.70" y="190.50" width="9.10" height="17.80" fill="#9aaad2"/>
<line x1="317.25" y1="195.00" x2="317.25" y2="187.00" stroke="#3d5a94" stroke-width="0.65"/>
<line x1="314.75" y1="187.00" x2="319.75" y2="187.00" stroke="#3d5a94" stroke-width="0.65"/>
<line x1="314.75" y1="195.00" x2="319.75" y2="195.00" stroke="#3d5a94" stroke-width="0.65"/>
<polygon points="314.25,187.06 312.82,184.46 315.68,184.46" fill="#3d5a94"/>
<polygon points="319.95,187.06 318.52,184.46 321.38,184.46" fill="#3d5a94"/>
<polygon points="315.05,193.56 313.62,190.96 316.48,190.96" fill="#3d5a94"/>
<polygon points="319.45,194.06 318.02,191.46 320.88,191.46" fill="#3d5a94"/>
<polygon points="316.95,199.06 315.52,196.46 318.38,196.46" fill="#3d5a94"/>
<text x="265.0" y="220.8" font-size="6.8" fill="#3a3a3a" font-weight="normal" textLength="20.1" lengthAdjust="spacingAndGlyphs">control</text>
<text x="298.5" y="220.8" font-size="6.8" fill="#3a3a3a" font-weight="normal" textLength="23.5" lengthAdjust="spacingAndGlyphs">Poly(I:C)</text>
<text class="b" x="351.3" y="166.9" font-size="7.6" fill="#3a3a3a" textLength="11.2" lengthAdjust="spacingAndGlyphs">Mo</text>
<line x1="348.30" y1="159.90" x2="348.30" y2="209.90" stroke="#222" stroke-width="1.2"/>
<line x1="347.70" y1="209.30" x2="415.00" y2="209.30" stroke="#222" stroke-width="1.2"/>
<line x1="345.70" y1="209.30" x2="348.30" y2="209.30" stroke="#222" stroke-width="1.0"/>
<text x="337.90" y="211.7" font-size="6.6" fill="#444" textLength="3.40" lengthAdjust="spacingAndGlyphs">0</text>
<line x1="345.70" y1="197.60" x2="348.30" y2="197.60" stroke="#222" stroke-width="1.0"/>
<text x="331.10" y="200.0" font-size="6.6" fill="#444" textLength="10.20" lengthAdjust="spacingAndGlyphs">200</text>
<line x1="345.70" y1="185.90" x2="348.30" y2="185.90" stroke="#222" stroke-width="1.0"/>
<text x="331.10" y="188.3" font-size="6.6" fill="#444" textLength="10.20" lengthAdjust="spacingAndGlyphs">400</text>
<line x1="345.70" y1="174.20" x2="348.30" y2="174.20" stroke="#222" stroke-width="1.0"/>
<text x="331.10" y="176.6" font-size="6.6" fill="#444" textLength="10.20" lengthAdjust="spacingAndGlyphs">600</text>
<line x1="345.70" y1="162.50" x2="348.30" y2="162.50" stroke="#222" stroke-width="1.0"/>
<text x="331.10" y="164.9" font-size="6.6" fill="#444" textLength="10.20" lengthAdjust="spacingAndGlyphs">800</text>
<line x1="364.50" y1="209.30" x2="364.50" y2="211.50" stroke="#222" stroke-width="0.9"/>
<line x1="399.50" y1="209.30" x2="399.50" y2="211.50" stroke="#222" stroke-width="0.9"/>
<rect x="353.00" y="202.50" width="8.80" height="6.20" fill="#c7c9d1"/>
<line x1="357.40" y1="205.00" x2="357.40" y2="200.00" stroke="#4b505e" stroke-width="0.65"/>
<line x1="354.90" y1="200.00" x2="359.90" y2="200.00" stroke="#4b505e" stroke-width="0.65"/>
<line x1="354.90" y1="205.00" x2="359.90" y2="205.00" stroke="#4b505e" stroke-width="0.65"/>
<circle cx="356.30" cy="198.75" r="1.3" fill="#4b505e"/>
<circle cx="354.50" cy="202.50" r="1.3" fill="#4b505e"/>
<circle cx="357.50" cy="203.00" r="1.3" fill="#4b505e"/>
<circle cx="355.50" cy="205.00" r="1.3" fill="#4b505e"/>
<circle cx="358.75" cy="205.00" r="1.3" fill="#4b505e"/>
<circle cx="357.50" cy="207.00" r="1.3" fill="#4b505e"/>
<rect x="366.50" y="201.30" width="9.00" height="7.40" fill="#9aaad2"/>
<line x1="371.00" y1="205.00" x2="371.00" y2="198.00" stroke="#3d5a94" stroke-width="0.65"/>
<line x1="368.50" y1="198.00" x2="373.50" y2="198.00" stroke="#3d5a94" stroke-width="0.65"/>
<line x1="368.50" y1="205.00" x2="373.50" y2="205.00" stroke="#3d5a94" stroke-width="0.65"/>
<polygon points="371.25,189.06 369.82,186.46 372.68,186.46" fill="#3d5a94"/>
<polygon points="368.75,200.31 367.32,197.71 370.18,197.71" fill="#3d5a94"/>
<polygon points="372.50,201.56 371.07,198.96 373.93,198.96" fill="#3d5a94"/>
<polygon points="370.00,206.06 368.57,203.46 371.43,203.46" fill="#3d5a94"/>
<polygon points="373.75,207.81 372.32,205.21 375.18,205.21" fill="#3d5a94"/>
<rect x="388.00" y="197.00" width="9.50" height="11.70" fill="#c7c9d1"/>
<line x1="392.75" y1="200.00" x2="392.75" y2="193.00" stroke="#4b505e" stroke-width="0.65"/>
<line x1="390.25" y1="193.00" x2="395.25" y2="193.00" stroke="#4b505e" stroke-width="0.65"/>
<line x1="390.25" y1="200.00" x2="395.25" y2="200.00" stroke="#4b505e" stroke-width="0.65"/>
<circle cx="392.00" cy="170.00" r="1.3" fill="#4b505e"/>
<circle cx="392.50" cy="191.25" r="1.3" fill="#4b505e"/>
<circle cx="390.00" cy="195.50" r="1.3" fill="#4b505e"/>
<circle cx="395.00" cy="195.50" r="1.3" fill="#4b505e"/>
<circle cx="391.25" cy="199.50" r="1.3" fill="#4b505e"/>
<circle cx="393.75" cy="202.50" r="1.3" fill="#4b505e"/>
<circle cx="392.00" cy="205.00" r="1.3" fill="#4b505e"/>
<rect x="401.30" y="190.00" width="9.20" height="18.70" fill="#9aaad2"/>
<line x1="405.90" y1="195.00" x2="405.90" y2="186.25" stroke="#3d5a94" stroke-width="0.65"/>
<line x1="403.40" y1="186.25" x2="408.40" y2="186.25" stroke="#3d5a94" stroke-width="0.65"/>
<line x1="403.40" y1="195.00" x2="408.40" y2="195.00" stroke="#3d5a94" stroke-width="0.65"/>
<polygon points="406.25,173.56 404.82,170.96 407.68,170.96" fill="#3d5a94"/>
<polygon points="403.75,189.56 402.32,186.96 405.18,186.96" fill="#3d5a94"/>
<polygon points="407.50,191.06 406.07,188.46 408.93,188.46" fill="#3d5a94"/>
<polygon points="405.00,195.31 403.57,192.71 406.43,192.71" fill="#3d5a94"/>
<polygon points="406.25,202.06 404.82,199.46 407.68,199.46" fill="#3d5a94"/>
<text x="353.8" y="220.7" font-size="6.8" fill="#3a3a3a" font-weight="normal" textLength="20.7" lengthAdjust="spacingAndGlyphs">control</text>
<text x="387.5" y="220.7" font-size="6.8" fill="#3a3a3a" font-weight="normal" textLength="23.8" lengthAdjust="spacingAndGlyphs">Poly(I:C)</text>
<circle cx="437.20" cy="179.80" r="1.45" fill="#4b505e"/>
<text x="442.1" y="182.2" font-size="6.6" fill="#3a3a3a"><tspan dy="0.0">WT</tspan></text>
<circle cx="437.20" cy="188.50" r="1.45" fill="#46557a"/>
<text x="442.1" y="190.9" font-size="6.6" fill="#3a3a3a"><tspan dy="0.0">F2rl1</tspan><tspan font-size="3.83" dy="-3.3">R38E</tspan></text>
<text x="10.9" y="247.3" font-size="11" font-weight="bold" fill="#111" text-anchor="middle">D</text>
<text class="t" x="101.9" y="247.7" font-size="8.3" fill="#333" textLength="60.8" lengthAdjust="spacingAndGlyphs">fibrinogen matrix</text>
<text class="t" x="309.3" y="247.8" font-size="8.3" fill="#333" textLength="62.2" lengthAdjust="spacingAndGlyphs">fibronectin matrix</text>
<text class="b" transform="translate(13.8,284.6) rotate(-90)" x="0" y="0" font-size="6.6" fill="#3a3a3a" text-anchor="middle" textLength="28.6" lengthAdjust="spacingAndGlyphs">Migration</text>
<text class="b" transform="translate(23.4,285.0) rotate(-90)" x="0" y="0" font-size="6.6" fill="#3a3a3a" text-anchor="middle" textLength="34.6" lengthAdjust="spacingAndGlyphs">% of control</text>
<text class="b" x="51.8" y="267.7" font-size="7.6" fill="#3a3a3a" textLength="6.8" lengthAdjust="spacingAndGlyphs">M</text>
<ellipse cx="62.26" cy="264.93" rx="2.56" ry="2.52" fill="none" stroke="#3a3a3a" stroke-width="0.85"/>
<line x1="62.26" y1="262.26" x2="62.26" y2="267.60" stroke="#3a3a3a" stroke-width="0.9"/>
<line x1="48.40" y1="260.90" x2="48.40" y2="310.00" stroke="#222" stroke-width="1.2"/>
<line x1="47.80" y1="309.40" x2="116.00" y2="309.40" stroke="#222" stroke-width="1.2"/>
<line x1="45.80" y1="309.40" x2="48.40" y2="309.40" stroke="#222" stroke-width="1.0"/>
<text x="39.80" y="311.8" font-size="6.6" fill="#444" textLength="3.40" lengthAdjust="spacingAndGlyphs">0</text>
<line x1="45.80" y1="300.22" x2="48.40" y2="300.22" stroke="#222" stroke-width="1.0"/>
<text x="33.00" y="302.6" font-size="6.6" fill="#444" textLength="10.20" lengthAdjust="spacingAndGlyphs">200</text>
<line x1="45.80" y1="291.04" x2="48.40" y2="291.04" stroke="#222" stroke-width="1.0"/>
<text x="33.00" y="293.4" font-size="6.6" fill="#444" textLength="10.20" lengthAdjust="spacingAndGlyphs">400</text>
<line x1="45.80" y1="281.86" x2="48.40" y2="281.86" stroke="#222" stroke-width="1.0"/>
<text x="33.00" y="284.2" font-size="6.6" fill="#444" textLength="10.20" lengthAdjust="spacingAndGlyphs">600</text>
<line x1="45.80" y1="272.68" x2="48.40" y2="272.68" stroke="#222" stroke-width="1.0"/>
<text x="33.00" y="275.1" font-size="6.6" fill="#444" textLength="10.20" lengthAdjust="spacingAndGlyphs">800</text>
<line x1="45.80" y1="263.50" x2="48.40" y2="263.50" stroke="#222" stroke-width="1.0"/>
<text x="29.60" y="265.9" font-size="6.6" fill="#444" textLength="13.60" lengthAdjust="spacingAndGlyphs">1000</text>
<line x1="63.40" y1="309.40" x2="63.40" y2="311.60" stroke="#222" stroke-width="0.9"/>
<line x1="98.50" y1="309.40" x2="98.50" y2="311.60" stroke="#222" stroke-width="0.9"/>
<path d="M53.10,308.80 L53.10,303.50 Q53.10,302.40 54.24,302.20 L54.24,300.10 Q54.24,299.10 55.70,299.10 Q57.16,299.10 57.16,300.10 L57.16,302.20 Q58.30,302.40 58.30,303.50 L58.30,308.80 Z" fill="#5c6475" opacity="0.82"/>
<circle cx="55.70" cy="300.00" r="1.3" fill="#5c6475"/>
<circle cx="55.70" cy="302.50" r="1.3" fill="#5c6475"/>
<path d="M62.30,308.80 L62.30,305.30 Q62.30,304.20 63.66,304.00 L63.66,301.90 Q63.66,300.90 65.40,300.90 Q67.14,300.90 67.14,301.90 L67.14,304.00 Q68.50,304.20 68.50,305.30 L68.50,308.80 Z" fill="#74297f" opacity="0.82"/>
<circle cx="65.40" cy="301.50" r="1.3" fill="#74297f"/>
<path d="M72.20,308.80 L72.20,305.00 Q72.20,303.90 73.61,303.70 L73.61,301.60 Q73.61,300.60 75.40,300.60 Q77.19,300.60 77.19,301.60 L77.19,303.70 Q78.60,303.90 78.60,305.00 L78.60,308.80 Z" fill="#74297f" opacity="0.82"/>
<polygon points="75.40,296.44 73.97,299.04 76.83,299.04" fill="#74297f"/>
<rect x="87.40" y="292.90" width="6.10" height="15.90" fill="#d4d7de"/>
<circle cx="89.50" cy="284.50" r="1.1" fill="#5a6272"/>
<circle cx="90.70" cy="284.50" r="1.1" fill="#5a6272"/>
<circle cx="90.10" cy="288.70" r="1.1" fill="#5a6272"/>
<circle cx="90.90" cy="290.50" r="1.1" fill="#5a6272"/>
<circle cx="91.60" cy="292.20" r="1.1" fill="#5a6272"/>
<circle cx="88.60" cy="294.40" r="1.1" fill="#5a6272"/>
<circle cx="91.60" cy="295.20" r="1.1" fill="#5a6272"/>
<circle cx="89.30" cy="297.50" r="1.1" fill="#5a6272"/>
<circle cx="91.20" cy="300.60" r="1.1" fill="#5a6272"/>
<circle cx="89.30" cy="302.00" r="1.1" fill="#5a6272"/>
<circle cx="91.60" cy="303.60" r="1.1" fill="#5a6272"/>
<circle cx="88.30" cy="305.50" r="1.1" fill="#5a6272"/>
<circle cx="90.50" cy="307.40" r="1.1" fill="#5a6272"/>
<circle cx="92.30" cy="306.50" r="1.1" fill="#5a6272"/>
<circle cx="88.80" cy="299.00" r="1.1" fill="#5a6272"/>
<path d="M97.00,308.80 L97.00,305.70 Q97.00,304.60 98.34,304.40 L98.34,302.30 Q98.34,301.30 100.05,301.30 Q101.76,301.30 101.76,302.30 L101.76,304.40 Q103.10,304.60 103.10,305.70 L103.10,308.80 Z" fill="#74297f" opacity="0.82"/>
<circle cx="100.05" cy="302.50" r="1.3" fill="#74297f"/>
<path d="M106.90,308.80 L106.90,303.00 Q106.90,301.90 108.24,301.70 L108.24,299.60 Q108.24,298.60 109.95,298.60 Q111.66,298.60 111.66,299.60 L111.66,301.70 Q113.00,301.90 113.00,303.00 L113.00,308.80 Z" fill="#74297f" opacity="0.82"/>
<polygon points="109.95,298.44 108.52,301.04 111.38,301.04" fill="#74297f"/>
<polyline points="90.20,268.20 90.20,265.60 110.00,265.60 110.00,268.20" fill="none" stroke="#4a4a4a" stroke-width="0.9"/>
<circle cx="96.20" cy="262.20" r="0.95" fill="#333"/>
<circle cx="98.80" cy="262.20" r="0.95" fill="#333"/>
<circle cx="101.40" cy="262.20" r="0.95" fill="#333"/>
<circle cx="104.00" cy="262.20" r="0.95" fill="#333"/>
<polyline points="90.10,280.30 90.10,277.30 100.00,277.30 100.00,280.30" fill="none" stroke="#4a4a4a" stroke-width="0.9"/>
<circle cx="91.15" cy="274.60" r="0.95" fill="#333"/>
<circle cx="93.75" cy="274.60" r="0.95" fill="#333"/>
<circle cx="96.35" cy="274.60" r="0.95" fill="#333"/>
<circle cx="98.95" cy="274.60" r="0.95" fill="#333"/>
<text x="54.4" y="321.3" font-size="6.8" fill="#3a3a3a" font-weight="normal" textLength="18.9" lengthAdjust="spacingAndGlyphs">control</text>
<text x="86.8" y="321.3" font-size="6.8" fill="#3a3a3a" font-weight="normal" textLength="22.6" lengthAdjust="spacingAndGlyphs">Poly(I:C)</text>
<text class="b" x="145.2" y="267.6" font-size="7.6" fill="#3a3a3a" textLength="11.4" lengthAdjust="spacingAndGlyphs">Mo</text>
<line x1="141.90" y1="261.10" x2="141.90" y2="310.00" stroke="#222" stroke-width="1.2"/>
<line x1="141.30" y1="309.40" x2="209.60" y2="309.40" stroke="#222" stroke-width="1.2"/>
<line x1="139.30" y1="309.40" x2="141.90" y2="309.40" stroke="#222" stroke-width="1.0"/>
<text x="134.00" y="311.8" font-size="6.6" fill="#444" textLength="3.40" lengthAdjust="spacingAndGlyphs">0</text>
<line x1="139.30" y1="297.97" x2="141.90" y2="297.97" stroke="#222" stroke-width="1.0"/>
<text x="127.20" y="300.4" font-size="6.6" fill="#444" textLength="10.20" lengthAdjust="spacingAndGlyphs">500</text>
<line x1="139.30" y1="286.55" x2="141.90" y2="286.55" stroke="#222" stroke-width="1.0"/>
<text x="123.80" y="288.9" font-size="6.6" fill="#444" textLength="13.60" lengthAdjust="spacingAndGlyphs">1000</text>
<line x1="139.30" y1="275.12" x2="141.90" y2="275.12" stroke="#222" stroke-width="1.0"/>
<text x="123.80" y="277.5" font-size="6.6" fill="#444" textLength="13.60" lengthAdjust="spacingAndGlyphs">1500</text>
<line x1="139.30" y1="263.70" x2="141.90" y2="263.70" stroke="#222" stroke-width="1.0"/>
<text x="123.80" y="266.1" font-size="6.6" fill="#444" textLength="13.60" lengthAdjust="spacingAndGlyphs">2000</text>
<line x1="158.30" y1="309.40" x2="158.30" y2="311.60" stroke="#222" stroke-width="0.9"/>
<line x1="193.00" y1="309.40" x2="193.00" y2="311.60" stroke="#222" stroke-width="0.9"/>
<path d="M145.60,308.80 L145.60,308.40 Q145.60,307.30 146.70,307.10 L146.70,305.00 Q146.70,304.00 148.10,304.00 Q149.50,304.00 149.50,305.00 L149.50,307.10 Q150.60,307.30 150.60,308.40 L150.60,308.80 Z" fill="#5c6475" opacity="0.82"/>
<circle cx="148.10" cy="303.00" r="1.3" fill="#5c6475"/>
<path d="M155.20,308.80 L155.20,304.40 Q155.20,303.30 156.59,303.10 L156.59,301.00 Q156.59,300.00 158.35,300.00 Q160.11,300.00 160.11,301.00 L160.11,303.10 Q161.50,303.30 161.50,304.40 L161.50,308.80 Z" fill="#74297f" opacity="0.82"/>
<circle cx="158.35" cy="299.50" r="1.3" fill="#74297f"/>
<circle cx="156.85" cy="303.00" r="1.3" fill="#74297f"/>
<path d="M165.70,308.80 L165.70,307.40 Q165.70,306.30 166.91,306.10 L166.91,304.00 Q166.91,303.00 168.45,303.00 Q169.99,303.00 169.99,304.00 L169.99,306.10 Q171.20,306.30 171.20,307.40 L171.20,308.80 Z" fill="#74297f" opacity="0.82"/>
<polygon points="168.45,300.44 167.02,303.04 169.88,303.04" fill="#74297f"/>
<rect x="180.30" y="296.60" width="5.50" height="12.20" fill="#d4d7de"/>
<path d="M180.40,308.80 L180.40,300.30 Q180.40,299.20 181.72,299.00 L181.72,296.90 Q181.72,295.90 183.40,295.90 Q185.08,295.90 185.08,296.90 L185.08,299.00 Q186.40,299.20 186.40,300.30 L186.40,308.80 Z" fill="#6a7282" opacity="0.82"/>
<circle cx="182.50" cy="281.00" r="1.1" fill="#5a6272"/>
<circle cx="182.50" cy="285.50" r="1.1" fill="#5a6272"/>
<circle cx="183.00" cy="289.50" r="1.1" fill="#5a6272"/>
<circle cx="181.80" cy="292.50" r="1.1" fill="#5a6272"/>
<circle cx="184.00" cy="294.00" r="1.1" fill="#5a6272"/>
<circle cx="182.50" cy="296.50" r="1.1" fill="#5a6272"/>
<circle cx="184.20" cy="298.50" r="1.1" fill="#5a6272"/>
<circle cx="181.50" cy="300.00" r="1.1" fill="#5a6272"/>
<circle cx="183.50" cy="302.00" r="1.1" fill="#5a6272"/>
<circle cx="181.80" cy="304.00" r="1.1" fill="#5a6272"/>
<circle cx="184.50" cy="305.00" r="1.1" fill="#5a6272"/>
<circle cx="183.00" cy="307.50" r="1.1" fill="#5a6272"/>
<path d="M190.40,308.80 L190.40,303.80 Q190.40,302.70 191.61,302.50 L191.61,300.40 Q191.61,299.40 193.15,299.40 Q194.69,299.40 194.69,300.40 L194.69,302.50 Q195.90,302.70 195.90,303.80 L195.90,308.80 Z" fill="#74297f" opacity="0.82"/>
<circle cx="193.15" cy="300.00" r="1.3" fill="#74297f"/>
<rect x="200.40" y="301.00" width="5.50" height="7.80" fill="#dccde3"/>
<polygon points="203.20,290.96 201.88,293.36 204.52,293.36" fill="#74297f"/>
<polygon points="203.20,294.56 201.88,296.96 204.52,296.96" fill="#74297f"/>
<polygon points="202.00,299.06 200.68,301.46 203.32,301.46" fill="#74297f"/>
<polygon points="204.50,300.56 203.18,302.96 205.82,302.96" fill="#74297f"/>
<polygon points="203.00,303.06 201.68,305.46 204.32,305.46" fill="#74297f"/>
<polygon points="201.80,305.06 200.48,307.46 203.12,307.46" fill="#74297f"/>
<polygon points="204.50,306.06 203.18,308.46 205.82,308.46" fill="#74297f"/>
<polyline points="183.00,265.50 183.00,261.90 203.20,261.90 203.20,265.50" fill="none" stroke="#4a4a4a" stroke-width="0.9"/>
<circle cx="193.10" cy="258.20" r="0.95" fill="#333"/>
<polyline points="183.00,277.80 183.00,274.70 193.50,274.70 193.50,277.80" fill="none" stroke="#4a4a4a" stroke-width="0.9"/>
<circle cx="188.25" cy="271.00" r="0.95" fill="#333"/>
<text x="148.3" y="321.3" font-size="6.8" fill="#3a3a3a" font-weight="normal" textLength="19.6" lengthAdjust="spacingAndGlyphs">control</text>
<text x="181.2" y="321.3" font-size="6.8" fill="#3a3a3a" font-weight="normal" textLength="23.8" lengthAdjust="spacingAndGlyphs">Poly(I:C)</text>
<text class="b" transform="translate(223.2,284.4) rotate(-90)" x="0" y="0" font-size="6.6" fill="#3a3a3a" text-anchor="middle" textLength="28.9" lengthAdjust="spacingAndGlyphs">Migration</text>
<text class="b" transform="translate(233.9,285.0) rotate(-90)" x="0" y="0" font-size="6.6" fill="#3a3a3a" text-anchor="middle" textLength="34.7" lengthAdjust="spacingAndGlyphs">% of control</text>
<text class="b" x="262.7" y="267.6" font-size="7.6" fill="#3a3a3a" textLength="6.3" lengthAdjust="spacingAndGlyphs">M</text>
<ellipse cx="272.54" cy="264.83" rx="2.41" ry="2.52" fill="none" stroke="#3a3a3a" stroke-width="0.85"/>
<line x1="272.54" y1="262.16" x2="272.54" y2="267.50" stroke="#3a3a3a" stroke-width="0.9"/>
<line x1="259.70" y1="260.50" x2="259.70" y2="309.60" stroke="#222" stroke-width="1.2"/>
<line x1="259.10" y1="309.00" x2="326.00" y2="309.00" stroke="#222" stroke-width="1.2"/>
<line x1="257.10" y1="309.00" x2="259.70" y2="309.00" stroke="#222" stroke-width="1.0"/>
<text x="249.30" y="311.4" font-size="6.6" fill="#444" textLength="3.40" lengthAdjust="spacingAndGlyphs">0</text>
<line x1="257.10" y1="299.82" x2="259.70" y2="299.82" stroke="#222" stroke-width="1.0"/>
<text x="242.50" y="302.2" font-size="6.6" fill="#444" textLength="10.20" lengthAdjust="spacingAndGlyphs">200</text>
<line x1="257.10" y1="290.64" x2="259.70" y2="290.64" stroke="#222" stroke-width="1.0"/>
<text x="242.50" y="293.0" font-size="6.6" fill="#444" textLength="10.20" lengthAdjust="spacingAndGlyphs">400</text>
<line x1="257.10" y1="281.46" x2="259.70" y2="281.46" stroke="#222" stroke-width="1.0"/>
<text x="242.50" y="283.8" font-size="6.6" fill="#444" textLength="10.20" lengthAdjust="spacingAndGlyphs">600</text>
<line x1="257.10" y1="272.28" x2="259.70" y2="272.28" stroke="#222" stroke-width="1.0"/>
<text x="242.50" y="274.7" font-size="6.6" fill="#444" textLength="10.20" lengthAdjust="spacingAndGlyphs">800</text>
<line x1="257.10" y1="263.10" x2="259.70" y2="263.10" stroke="#222" stroke-width="1.0"/>
<text x="239.10" y="265.5" font-size="6.6" fill="#444" textLength="13.60" lengthAdjust="spacingAndGlyphs">1000</text>
<line x1="275.50" y1="309.00" x2="275.50" y2="311.20" stroke="#222" stroke-width="0.9"/>
<line x1="310.00" y1="309.00" x2="310.00" y2="311.20" stroke="#222" stroke-width="0.9"/>
<path d="M262.70,308.40 L262.70,303.70 Q262.70,302.60 263.89,302.40 L263.89,300.30 Q263.89,299.30 265.40,299.30 Q266.91,299.30 266.91,300.30 L266.91,302.40 Q268.10,302.60 268.10,303.70 L268.10,308.40 Z" fill="#5c6475" opacity="0.82"/>
<circle cx="265.40" cy="300.00" r="1.3" fill="#5c6475"/>
<path d="M272.10,308.40 L272.10,306.00 Q272.10,304.90 273.60,304.70 L273.60,302.60 Q273.60,301.60 275.50,301.60 Q277.40,301.60 277.40,302.60 L277.40,304.70 Q278.90,304.90 278.90,306.00 L278.90,308.40 Z" fill="#74297f" opacity="0.82"/>
<circle cx="275.50" cy="302.00" r="1.3" fill="#74297f"/>
<path d="M282.20,308.40 L282.20,304.70 Q282.20,303.60 283.63,303.40 L283.63,301.30 Q283.63,300.30 285.45,300.30 Q287.27,300.30 287.27,301.30 L287.27,303.40 Q288.70,303.60 288.70,304.70 L288.70,308.40 Z" fill="#74297f" opacity="0.82"/>
<polygon points="285.45,298.94 284.02,301.54 286.88,301.54" fill="#74297f"/>
<rect x="297.00" y="301.30" width="5.70" height="7.10" fill="#d4d7de"/>
<path d="M297.20,308.40 L297.20,301.00 Q297.20,299.90 298.37,299.70 L298.37,297.60 Q298.37,296.60 299.85,296.60 Q301.33,296.60 301.33,297.60 L301.33,299.70 Q302.50,299.90 302.50,301.00 L302.50,308.40 Z" fill="#5c6475" opacity="0.82"/>
<circle cx="299.85" cy="297.50" r="1.3" fill="#5c6475"/>
<rect x="307.10" y="298.60" width="6.10" height="9.80" fill="#c9a8d2"/>
<path d="M307.30,303.40 L307.30,299.30 Q307.30,298.20 308.55,298.00 L308.55,295.90 Q308.55,294.90 310.15,294.90 Q311.75,294.90 311.75,295.90 L311.75,298.00 Q313.00,298.20 313.00,299.30 L313.00,303.40 Z" fill="#74297f" opacity="0.82"/>
<circle cx="310.15" cy="296.00" r="1.3" fill="#74297f"/>
<rect x="317.20" y="298.60" width="6.50" height="9.80" fill="#dccde3"/>
<polygon points="320.40,279.00 319.02,281.50 321.77,281.50" fill="#74297f"/>
<polygon points="320.40,284.00 319.02,286.50 321.77,286.50" fill="#74297f"/>
<polygon points="318.80,287.50 317.43,290.00 320.18,290.00" fill="#74297f"/>
<polygon points="321.80,289.00 320.43,291.50 323.18,291.50" fill="#74297f"/>
<polygon points="319.50,291.50 318.12,294.00 320.88,294.00" fill="#74297f"/>
<polygon points="322.20,293.00 320.82,295.50 323.57,295.50" fill="#74297f"/>
<polygon points="320.40,295.00 319.02,297.50 321.77,297.50" fill="#74297f"/>
<polygon points="318.50,297.00 317.12,299.50 319.88,299.50" fill="#74297f"/>
<polygon points="321.50,298.50 320.12,301.00 322.88,301.00" fill="#74297f"/>
<polygon points="320.00,301.50 318.62,304.00 321.38,304.00" fill="#74297f"/>
<polyline points="300.40,276.60 300.40,273.70 320.20,273.70 320.20,276.60" fill="none" stroke="#4a4a4a" stroke-width="0.9"/>
<circle cx="306.40" cy="270.70" r="0.95" fill="#333"/>
<circle cx="309.00" cy="270.70" r="0.95" fill="#333"/>
<circle cx="311.60" cy="270.70" r="0.95" fill="#333"/>
<circle cx="314.20" cy="270.70" r="0.95" fill="#333"/>
<text x="265.4" y="321.3" font-size="6.8" fill="#3a3a3a" font-weight="normal" textLength="19.6" lengthAdjust="spacingAndGlyphs">control</text>
<text x="298.9" y="321.3" font-size="6.8" fill="#3a3a3a" font-weight="normal" textLength="23.3" lengthAdjust="spacingAndGlyphs">Poly(I:C)</text>
<text class="b" x="351.4" y="268.0" font-size="7.6" fill="#3a3a3a" textLength="11.8" lengthAdjust="spacingAndGlyphs">Mo</text>
<line x1="347.80" y1="261.20" x2="347.80" y2="310.00" stroke="#222" stroke-width="1.2"/>
<line x1="347.20" y1="309.40" x2="415.00" y2="309.40" stroke="#222" stroke-width="1.2"/>
<line x1="345.20" y1="309.40" x2="347.80" y2="309.40" stroke="#222" stroke-width="1.0"/>
<text x="338.60" y="311.8" font-size="6.6" fill="#444" textLength="3.40" lengthAdjust="spacingAndGlyphs">0</text>
<line x1="345.20" y1="294.20" x2="347.80" y2="294.20" stroke="#222" stroke-width="1.0"/>
<text x="331.80" y="296.6" font-size="6.6" fill="#444" textLength="10.20" lengthAdjust="spacingAndGlyphs">500</text>
<line x1="345.20" y1="279.00" x2="347.80" y2="279.00" stroke="#222" stroke-width="1.0"/>
<text x="328.40" y="281.4" font-size="6.6" fill="#444" textLength="13.60" lengthAdjust="spacingAndGlyphs">1000</text>
<line x1="345.20" y1="263.80" x2="347.80" y2="263.80" stroke="#222" stroke-width="1.0"/>
<text x="328.40" y="266.2" font-size="6.6" fill="#444" textLength="13.60" lengthAdjust="spacingAndGlyphs">1500</text>
<line x1="364.50" y1="309.40" x2="364.50" y2="311.60" stroke="#222" stroke-width="0.9"/>
<line x1="399.00" y1="309.40" x2="399.00" y2="311.60" stroke="#222" stroke-width="0.9"/>
<path d="M352.00,308.80 L352.00,308.20 Q352.00,307.10 353.19,306.90 L353.19,304.80 Q353.19,303.80 354.70,303.80 Q356.21,303.80 356.21,304.80 L356.21,306.90 Q357.40,307.10 357.40,308.20 L357.40,308.80 Z" fill="#5c6475" opacity="0.82"/>
<circle cx="354.70" cy="304.00" r="1.3" fill="#5c6475"/>
<path d="M361.50,308.80 L361.50,308.40 Q361.50,307.30 362.82,307.10 L362.82,305.00 Q362.82,304.00 364.50,304.00 Q366.18,304.00 366.18,305.00 L366.18,307.10 Q367.50,307.30 367.50,308.40 L367.50,308.80 Z" fill="#74297f" opacity="0.82"/>
<circle cx="364.50" cy="304.50" r="1.3" fill="#74297f"/>
<path d="M371.60,308.80 L371.60,308.40 Q371.60,307.30 372.83,307.10 L372.83,305.00 Q372.83,304.00 374.40,304.00 Q375.97,304.00 375.97,305.00 L375.97,307.10 Q377.20,307.30 377.20,308.40 L377.20,308.80 Z" fill="#74297f" opacity="0.82"/>
<polygon points="374.40,302.94 372.97,305.54 375.83,305.54" fill="#74297f"/>
<rect x="385.70" y="302.40" width="6.10" height="6.40" fill="#d4d7de"/>
<path d="M386.00,308.80 L386.00,306.80 Q386.00,305.70 387.21,305.50 L387.21,303.40 Q387.21,302.40 388.75,302.40 Q390.29,302.40 390.29,303.40 L390.29,305.50 Q391.50,305.70 391.50,306.80 L391.50,308.80 Z" fill="#5c6475" opacity="0.82"/>
<circle cx="388.75" cy="299.00" r="1.3" fill="#5c6475"/>
<circle cx="388.75" cy="301.00" r="1.3" fill="#5c6475"/>
<rect x="396.10" y="295.40" width="5.80" height="13.40" fill="#a673b3"/>
<circle cx="400.50" cy="289.20" r="1.2" fill="#74297f"/>
<circle cx="402.00" cy="290.50" r="1.2" fill="#74297f"/>
<circle cx="398.50" cy="293.00" r="1.2" fill="#74297f"/>
<circle cx="397.50" cy="297.00" r="1.2" fill="#74297f"/>
<circle cx="400.50" cy="298.00" r="1.2" fill="#74297f"/>
<circle cx="398.00" cy="301.00" r="1.2" fill="#74297f"/>
<circle cx="400.50" cy="303.00" r="1.2" fill="#74297f"/>
<circle cx="398.50" cy="305.50" r="1.2" fill="#74297f"/>
<circle cx="400.50" cy="307.00" r="1.2" fill="#74297f"/>
<rect x="405.90" y="295.00" width="6.10" height="13.80" fill="#dccde3"/>
<polygon points="409.00,271.30 407.62,273.80 410.38,273.80" fill="#74297f"/>
<polygon points="409.00,281.40 407.62,283.90 410.38,283.90" fill="#74297f"/>
<polygon points="408.00,285.50 406.62,288.00 409.38,288.00" fill="#74297f"/>
<polygon points="410.00,289.50 408.62,292.00 411.38,292.00" fill="#74297f"/>
<polygon points="407.50,292.20 406.12,294.70 408.88,294.70" fill="#74297f"/>
<polygon points="410.50,294.50 409.12,297.00 411.88,297.00" fill="#74297f"/>
<polygon points="409.00,296.00 407.62,298.50 410.38,298.50" fill="#74297f"/>
<polygon points="407.50,298.20 406.12,300.70 408.88,300.70" fill="#74297f"/>
<polygon points="410.50,300.00 409.12,302.50 411.88,302.50" fill="#74297f"/>
<polygon points="409.00,303.60 407.62,306.10 410.38,306.10" fill="#74297f"/>
<polyline points="389.10,269.00 389.10,266.30 409.00,266.30 409.00,269.00" fill="none" stroke="#4a4a4a" stroke-width="0.9"/>
<circle cx="395.15" cy="262.70" r="0.95" fill="#333"/>
<circle cx="397.75" cy="262.70" r="0.95" fill="#333"/>
<circle cx="400.35" cy="262.70" r="0.95" fill="#333"/>
<circle cx="402.95" cy="262.70" r="0.95" fill="#333"/>
<polyline points="389.10,283.80 389.10,281.10 399.60,281.10 399.60,283.80" fill="none" stroke="#4a4a4a" stroke-width="0.9"/>
<circle cx="391.75" cy="277.90" r="0.95" fill="#333"/>
<circle cx="394.35" cy="277.90" r="0.95" fill="#333"/>
<circle cx="396.95" cy="277.90" r="0.95" fill="#333"/>
<text x="355.1" y="321.3" font-size="6.8" fill="#3a3a3a" font-weight="normal" textLength="19.9" lengthAdjust="spacingAndGlyphs">control</text>
<text x="387.4" y="321.3" font-size="6.8" fill="#3a3a3a" font-weight="normal" textLength="23.0" lengthAdjust="spacingAndGlyphs">Poly(I:C)</text>
<circle cx="437.70" cy="276.40" r="1.45" fill="#4b505e"/>
<text x="442.6" y="278.7" font-size="6.35" fill="#3a3a3a"><tspan dy="0.0">F7</tspan><tspan font-size="3.68" dy="-3.3">fl/fl</tspan></text>
<circle cx="437.70" cy="287.60" r="1.45" fill="#74297f"/>
<text x="442.6" y="289.9" font-size="6.35" fill="#3a3a3a"><tspan dy="0.0">F7</tspan><tspan font-size="3.68" dy="-3.3">fl/fl</tspan><tspan dy="3.3">LysM</tspan><tspan font-size="3.68" dy="-3.3">cre</tspan></text>
<polygon points="437.70,296.06 436.10,298.96 439.30,298.96" fill="#74297f"/>
<text x="442.6" y="300.1" font-size="6.35" fill="#3a3a3a"><tspan dy="0.0">F7</tspan><tspan font-size="3.68" dy="-3.3">fl/fl</tspan><tspan dy="3.3">Cx3cr1</tspan><tspan font-size="3.68" dy="-3.3">cre</tspan></text>
<text x="10.4" y="347.8" font-size="11" font-weight="bold" fill="#111" text-anchor="middle">E</text>
<text class="t" x="101.9" y="347.8" font-size="8.3" fill="#333" textLength="60.8" lengthAdjust="spacingAndGlyphs">fibrinogen matrix</text>
<text class="t" x="309.3" y="347.8" font-size="8.3" fill="#333" textLength="62.2" lengthAdjust="spacingAndGlyphs">fibronectin matrix</text>
<text class="b" transform="translate(17.3,382.6) rotate(-90)" x="0" y="0" font-size="7.0" fill="#3a3a3a" text-anchor="middle" textLength="29.5" lengthAdjust="spacingAndGlyphs">Migration</text>
<text class="b" transform="translate(26.9,382.5) rotate(-90)" x="0" y="0" font-size="7.0" fill="#3a3a3a" text-anchor="middle" textLength="35.7" lengthAdjust="spacingAndGlyphs">% of control</text>
<text class="b" x="52.5" y="365.3" font-size="7.6" fill="#3a3a3a" textLength="6.4" lengthAdjust="spacingAndGlyphs">M</text>
<ellipse cx="62.42" cy="362.53" rx="2.43" ry="2.52" fill="none" stroke="#3a3a3a" stroke-width="0.85"/>
<line x1="62.42" y1="359.86" x2="62.42" y2="365.20" stroke="#3a3a3a" stroke-width="0.9"/>
<line x1="48.50" y1="358.30" x2="48.50" y2="407.20" stroke="#222" stroke-width="1.2"/>
<line x1="47.90" y1="406.60" x2="112.70" y2="406.60" stroke="#222" stroke-width="1.2"/>
<line x1="45.90" y1="406.60" x2="48.50" y2="406.60" stroke="#222" stroke-width="1.0"/>
<text x="39.80" y="409.0" font-size="6.6" fill="#444" textLength="3.40" lengthAdjust="spacingAndGlyphs">0</text>
<line x1="45.90" y1="391.37" x2="48.50" y2="391.37" stroke="#222" stroke-width="1.0"/>
<text x="33.00" y="393.7" font-size="6.6" fill="#444" textLength="10.20" lengthAdjust="spacingAndGlyphs">100</text>
<line x1="45.90" y1="376.13" x2="48.50" y2="376.13" stroke="#222" stroke-width="1.0"/>
<text x="33.00" y="378.5" font-size="6.6" fill="#444" textLength="10.20" lengthAdjust="spacingAndGlyphs">200</text>
<line x1="45.90" y1="360.90" x2="48.50" y2="360.90" stroke="#222" stroke-width="1.0"/>
<text x="33.00" y="363.3" font-size="6.6" fill="#444" textLength="10.20" lengthAdjust="spacingAndGlyphs">300</text>
<line x1="65.60" y1="406.60" x2="65.60" y2="408.80" stroke="#222" stroke-width="0.9"/>
<line x1="100.20" y1="406.60" x2="100.20" y2="408.80" stroke="#222" stroke-width="0.9"/>
<rect x="53.50" y="393.30" width="9.90" height="12.70" fill="#c7c9d1"/>
<line x1="58.45" y1="397.60" x2="58.45" y2="390.70" stroke="#4b505e" stroke-width="0.65"/>
<line x1="55.95" y1="390.70" x2="60.95" y2="390.70" stroke="#4b505e" stroke-width="0.65"/>
<line x1="55.95" y1="397.60" x2="60.95" y2="397.60" stroke="#4b505e" stroke-width="0.65"/>
<circle cx="54.70" cy="386.70" r="1.3" fill="#4b505e"/>
<circle cx="61.60" cy="386.70" r="1.3" fill="#4b505e"/>
<circle cx="57.30" cy="392.90" r="1.3" fill="#4b505e"/>
<circle cx="59.90" cy="393.30" r="1.3" fill="#4b505e"/>
<circle cx="58.20" cy="395.30" r="1.3" fill="#4b505e"/>
<circle cx="61.60" cy="396.40" r="1.3" fill="#4b505e"/>
<circle cx="55.20" cy="398.80" r="1.3" fill="#4b505e"/>
<rect x="67.70" y="390.00" width="9.50" height="16.00" fill="#ee9189"/>
<line x1="72.45" y1="396.00" x2="72.45" y2="387.20" stroke="#c6283c" stroke-width="0.65"/>
<line x1="69.95" y1="387.20" x2="74.95" y2="387.20" stroke="#c6283c" stroke-width="0.65"/>
<line x1="69.95" y1="396.00" x2="74.95" y2="396.00" stroke="#c6283c" stroke-width="0.65"/>
<circle cx="72.00" cy="376.80" r="1.3" fill="#c6283c"/>
<circle cx="70.30" cy="390.70" r="1.3" fill="#c6283c"/>
<circle cx="73.70" cy="390.10" r="1.3" fill="#c6283c"/>
<circle cx="71.10" cy="392.40" r="1.3" fill="#c6283c"/>
<circle cx="74.60" cy="392.90" r="1.3" fill="#c6283c"/>
<circle cx="72.90" cy="394.60" r="1.3" fill="#c6283c"/>
<rect x="89.30" y="372.50" width="8.70" height="33.50" fill="#c7c9d1"/>
<line x1="93.65" y1="378.00" x2="93.65" y2="372.10" stroke="#4b505e" stroke-width="0.65"/>
<line x1="91.15" y1="372.10" x2="96.15" y2="372.10" stroke="#4b505e" stroke-width="0.65"/>
<line x1="91.15" y1="378.00" x2="96.15" y2="378.00" stroke="#4b505e" stroke-width="0.65"/>
<circle cx="92.80" cy="368.20" r="1.3" fill="#4b505e"/>
<circle cx="91.00" cy="373.40" r="1.3" fill="#4b505e"/>
<circle cx="94.50" cy="373.90" r="1.3" fill="#4b505e"/>
<circle cx="96.20" cy="375.60" r="1.3" fill="#4b505e"/>
<circle cx="93.60" cy="383.70" r="1.3" fill="#4b505e"/>
<rect x="102.30" y="378.50" width="9.50" height="27.50" fill="#ee9189"/>
<line x1="107.05" y1="383.00" x2="107.05" y2="373.40" stroke="#c6283c" stroke-width="0.65"/>
<line x1="104.55" y1="373.40" x2="109.55" y2="373.40" stroke="#c6283c" stroke-width="0.65"/>
<line x1="104.55" y1="383.00" x2="109.55" y2="383.00" stroke="#c6283c" stroke-width="0.65"/>
<circle cx="106.60" cy="372.10" r="1.3" fill="#c6283c"/>
<circle cx="104.00" cy="375.10" r="1.3" fill="#c6283c"/>
<circle cx="110.10" cy="375.10" r="1.3" fill="#c6283c"/>
<circle cx="105.70" cy="377.70" r="1.3" fill="#c6283c"/>
<circle cx="107.50" cy="380.30" r="1.3" fill="#c6283c"/>
<circle cx="104.00" cy="384.60" r="1.3" fill="#c6283c"/>
<circle cx="110.10" cy="384.60" r="1.3" fill="#c6283c"/>
<circle cx="106.60" cy="385.50" r="1.3" fill="#c6283c"/>
<text x="55.6" y="418.8" font-size="6.8" fill="#3a3a3a" font-weight="normal" textLength="19.0" lengthAdjust="spacingAndGlyphs">control</text>
<text x="89.3" y="418.8" font-size="6.8" fill="#3a3a3a" font-weight="normal" textLength="21.9" lengthAdjust="spacingAndGlyphs">Poly(I:C)</text>
<text class="b" x="144.7" y="365.5" font-size="7.6" fill="#3a3a3a" textLength="12.8" lengthAdjust="spacingAndGlyphs">Mo</text>
<line x1="142.90" y1="358.40" x2="142.90" y2="407.70" stroke="#222" stroke-width="1.2"/>
<line x1="142.30" y1="407.10" x2="209.60" y2="407.10" stroke="#222" stroke-width="1.2"/>
<line x1="140.30" y1="407.10" x2="142.90" y2="407.10" stroke="#222" stroke-width="1.0"/>
<text x="134.00" y="409.5" font-size="6.6" fill="#444" textLength="3.40" lengthAdjust="spacingAndGlyphs">0</text>
<line x1="140.30" y1="397.88" x2="142.90" y2="397.88" stroke="#222" stroke-width="1.0"/>
<text x="127.20" y="400.3" font-size="6.6" fill="#444" textLength="10.20" lengthAdjust="spacingAndGlyphs">100</text>
<line x1="140.30" y1="388.66" x2="142.90" y2="388.66" stroke="#222" stroke-width="1.0"/>
<text x="127.20" y="391.0" font-size="6.6" fill="#444" textLength="10.20" lengthAdjust="spacingAndGlyphs">200</text>
<line x1="140.30" y1="379.44" x2="142.90" y2="379.44" stroke="#222" stroke-width="1.0"/>
<text x="127.20" y="381.8" font-size="6.6" fill="#444" textLength="10.20" lengthAdjust="spacingAndGlyphs">300</text>
<line x1="140.30" y1="370.22" x2="142.90" y2="370.22" stroke="#222" stroke-width="1.0"/>
<text x="127.20" y="372.6" font-size="6.6" fill="#444" textLength="10.20" lengthAdjust="spacingAndGlyphs">400</text>
<line x1="140.30" y1="361.00" x2="142.90" y2="361.00" stroke="#222" stroke-width="1.0"/>
<text x="127.20" y="363.4" font-size="6.6" fill="#444" textLength="10.20" lengthAdjust="spacingAndGlyphs">500</text>
<line x1="158.00" y1="407.10" x2="158.00" y2="409.30" stroke="#222" stroke-width="0.9"/>
<line x1="193.00" y1="407.10" x2="193.00" y2="409.30" stroke="#222" stroke-width="0.9"/>
<rect x="146.90" y="398.10" width="8.70" height="8.40" fill="#c7c9d1"/>
<line x1="151.25" y1="402.00" x2="151.25" y2="395.00" stroke="#4b505e" stroke-width="0.65"/>
<line x1="148.75" y1="395.00" x2="153.75" y2="395.00" stroke="#4b505e" stroke-width="0.65"/>
<line x1="148.75" y1="402.00" x2="153.75" y2="402.00" stroke="#4b505e" stroke-width="0.65"/>
<circle cx="147.80" cy="389.70" r="1.3" fill="#4b505e"/>
<circle cx="151.10" cy="391.60" r="1.3" fill="#4b505e"/>
<circle cx="149.30" cy="396.70" r="1.3" fill="#4b505e"/>
<circle cx="152.90" cy="396.30" r="1.3" fill="#4b505e"/>
<circle cx="152.00" cy="399.40" r="1.3" fill="#4b505e"/>
<circle cx="148.30" cy="404.00" r="1.3" fill="#4b505e"/>
<circle cx="153.80" cy="404.00" r="1.3" fill="#4b505e"/>
<rect x="160.20" y="403.00" width="8.80" height="3.50" fill="#ee9189"/>
<line x1="164.60" y1="405.00" x2="164.60" y2="399.00" stroke="#c6283c" stroke-width="0.65"/>
<line x1="162.10" y1="399.00" x2="167.10" y2="399.00" stroke="#c6283c" stroke-width="0.65"/>
<line x1="162.10" y1="405.00" x2="167.10" y2="405.00" stroke="#c6283c" stroke-width="0.65"/>
<circle cx="164.80" cy="393.90" r="1.3" fill="#c6283c"/>
<circle cx="164.80" cy="398.10" r="1.3" fill="#c6283c"/>
<circle cx="163.00" cy="400.30" r="1.3" fill="#c6283c"/>
<circle cx="166.60" cy="401.80" r="1.3" fill="#c6283c"/>
<circle cx="161.70" cy="404.00" r="1.3" fill="#c6283c"/>
<circle cx="167.90" cy="404.40" r="1.3" fill="#c6283c"/>
<circle cx="164.80" cy="405.40" r="1.3" fill="#c6283c"/>
<rect x="182.20" y="387.20" width="8.70" height="19.30" fill="#c7c9d1"/>
<line x1="186.55" y1="390.30" x2="186.55" y2="383.90" stroke="#4b505e" stroke-width="0.65"/>
<line x1="184.05" y1="383.90" x2="189.05" y2="383.90" stroke="#4b505e" stroke-width="0.65"/>
<line x1="184.05" y1="390.30" x2="189.05" y2="390.30" stroke="#4b505e" stroke-width="0.65"/>
<circle cx="186.20" cy="369.30" r="1.3" fill="#4b505e"/>
<circle cx="186.20" cy="372.90" r="1.3" fill="#4b505e"/>
<circle cx="185.80" cy="381.70" r="1.3" fill="#4b505e"/>
<circle cx="183.10" cy="387.20" r="1.3" fill="#4b505e"/>
<circle cx="189.10" cy="387.20" r="1.3" fill="#4b505e"/>
<circle cx="184.90" cy="393.40" r="1.3" fill="#4b505e"/>
<circle cx="186.70" cy="404.00" r="1.3" fill="#4b505e"/>
<rect x="195.90" y="397.60" width="8.60" height="8.90" fill="#ee9189"/>
<line x1="200.20" y1="401.00" x2="200.20" y2="393.00" stroke="#c6283c" stroke-width="0.65"/>
<line x1="197.70" y1="393.00" x2="202.70" y2="393.00" stroke="#c6283c" stroke-width="0.65"/>
<line x1="197.70" y1="401.00" x2="202.70" y2="401.00" stroke="#c6283c" stroke-width="0.65"/>
<rect x="197.30" y="376.20" width="2.60" height="2.60" fill="#c6283c"/>
<rect x="199.10" y="376.20" width="2.60" height="2.60" fill="#c6283c"/>
<rect x="198.20" y="391.70" width="2.60" height="2.60" fill="#c6283c"/>
<rect x="195.50" y="394.50" width="2.60" height="2.60" fill="#c6283c"/>
<rect x="201.00" y="394.50" width="2.60" height="2.60" fill="#c6283c"/>
<rect x="196.40" y="397.60" width="2.60" height="2.60" fill="#c6283c"/>
<rect x="200.10" y="399.00" width="2.60" height="2.60" fill="#c6283c"/>
<rect x="198.20" y="401.80" width="2.60" height="2.60" fill="#c6283c"/>
<rect x="195.50" y="403.60" width="2.60" height="2.60" fill="#c6283c"/>
<rect x="201.90" y="403.60" width="2.60" height="2.60" fill="#c6283c"/>
<text x="148.3" y="418.8" font-size="6.8" fill="#3a3a3a" font-weight="normal" textLength="19.6" lengthAdjust="spacingAndGlyphs">control</text>
<text x="181.8" y="418.8" font-size="6.8" fill="#3a3a3a" font-weight="normal" textLength="23.2" lengthAdjust="spacingAndGlyphs">Poly(I:C)</text>
<text class="b" transform="translate(226.8,383.0) rotate(-90)" x="0" y="0" font-size="7.0" fill="#3a3a3a" text-anchor="middle" textLength="30.0" lengthAdjust="spacingAndGlyphs">Migration</text>
<text class="b" transform="translate(237.5,382.5) rotate(-90)" x="0" y="0" font-size="7.0" fill="#3a3a3a" text-anchor="middle" textLength="35.8" lengthAdjust="spacingAndGlyphs">% of control</text>
<text class="b" x="261.3" y="364.5" font-size="7.6" fill="#3a3a3a" textLength="6.7" lengthAdjust="spacingAndGlyphs">M</text>
<ellipse cx="271.69" cy="361.73" rx="2.55" ry="2.52" fill="none" stroke="#3a3a3a" stroke-width="0.85"/>
<line x1="271.69" y1="359.06" x2="271.69" y2="364.40" stroke="#3a3a3a" stroke-width="0.9"/>
<line x1="259.00" y1="358.10" x2="259.00" y2="407.30" stroke="#222" stroke-width="1.2"/>
<line x1="258.40" y1="406.70" x2="327.00" y2="406.70" stroke="#222" stroke-width="1.2"/>
<line x1="256.40" y1="406.70" x2="259.00" y2="406.70" stroke="#222" stroke-width="1.0"/>
<text x="249.30" y="409.1" font-size="6.6" fill="#444" textLength="3.40" lengthAdjust="spacingAndGlyphs">0</text>
<line x1="256.40" y1="395.20" x2="259.00" y2="395.20" stroke="#222" stroke-width="1.0"/>
<text x="242.50" y="397.6" font-size="6.6" fill="#444" textLength="10.20" lengthAdjust="spacingAndGlyphs">100</text>
<line x1="256.40" y1="383.70" x2="259.00" y2="383.70" stroke="#222" stroke-width="1.0"/>
<text x="242.50" y="386.1" font-size="6.6" fill="#444" textLength="10.20" lengthAdjust="spacingAndGlyphs">200</text>
<line x1="256.40" y1="372.20" x2="259.00" y2="372.20" stroke="#222" stroke-width="1.0"/>
<text x="242.50" y="374.6" font-size="6.6" fill="#444" textLength="10.20" lengthAdjust="spacingAndGlyphs">300</text>
<line x1="256.40" y1="360.70" x2="259.00" y2="360.70" stroke="#222" stroke-width="1.0"/>
<text x="242.50" y="363.1" font-size="6.6" fill="#444" textLength="10.20" lengthAdjust="spacingAndGlyphs">400</text>
<line x1="275.20" y1="406.70" x2="275.20" y2="408.90" stroke="#222" stroke-width="0.9"/>
<line x1="311.00" y1="406.70" x2="311.00" y2="408.90" stroke="#222" stroke-width="0.9"/>
<rect x="263.60" y="395.80" width="9.20" height="10.30" fill="#c7c9d1"/>
<line x1="268.20" y1="399.00" x2="268.20" y2="393.50" stroke="#4b505e" stroke-width="0.65"/>
<line x1="265.70" y1="393.50" x2="270.70" y2="393.50" stroke="#4b505e" stroke-width="0.65"/>
<line x1="265.70" y1="399.00" x2="270.70" y2="399.00" stroke="#4b505e" stroke-width="0.65"/>
<circle cx="267.70" cy="389.60" r="1.3" fill="#4b505e"/>
<circle cx="266.60" cy="391.90" r="1.3" fill="#4b505e"/>
<circle cx="265.40" cy="395.80" r="1.3" fill="#4b505e"/>
<circle cx="269.60" cy="396.50" r="1.3" fill="#4b505e"/>
<circle cx="271.20" cy="397.40" r="1.3" fill="#4b505e"/>
<circle cx="267.70" cy="400.40" r="1.3" fill="#4b505e"/>
<circle cx="268.70" cy="403.40" r="1.3" fill="#4b505e"/>
<rect x="277.40" y="393.50" width="9.50" height="12.60" fill="#ee9189"/>
<line x1="282.15" y1="396.00" x2="282.15" y2="390.50" stroke="#c6283c" stroke-width="0.65"/>
<line x1="279.65" y1="390.50" x2="284.65" y2="390.50" stroke="#c6283c" stroke-width="0.65"/>
<line x1="279.65" y1="396.00" x2="284.65" y2="396.00" stroke="#c6283c" stroke-width="0.65"/>
<circle cx="282.00" cy="381.30" r="1.3" fill="#c6283c"/>
<circle cx="280.40" cy="387.70" r="1.3" fill="#c6283c"/>
<circle cx="283.40" cy="390.50" r="1.3" fill="#c6283c"/>
<circle cx="279.30" cy="391.90" r="1.3" fill="#c6283c"/>
<circle cx="285.00" cy="392.80" r="1.3" fill="#c6283c"/>
<circle cx="280.40" cy="396.50" r="1.3" fill="#c6283c"/>
<circle cx="283.90" cy="397.40" r="1.3" fill="#c6283c"/>
<circle cx="282.00" cy="400.40" r="1.3" fill="#c6283c"/>
<rect x="299.60" y="385.40" width="9.20" height="20.70" fill="#c7c9d1"/>
<line x1="304.20" y1="389.00" x2="304.20" y2="384.30" stroke="#4b505e" stroke-width="0.65"/>
<line x1="301.70" y1="384.30" x2="306.70" y2="384.30" stroke="#4b505e" stroke-width="0.65"/>
<line x1="301.70" y1="389.00" x2="306.70" y2="389.00" stroke="#4b505e" stroke-width="0.65"/>
<circle cx="302.40" cy="375.00" r="1.3" fill="#4b505e"/>
<circle cx="304.70" cy="375.00" r="1.3" fill="#4b505e"/>
<circle cx="301.20" cy="383.60" r="1.3" fill="#4b505e"/>
<circle cx="306.50" cy="385.40" r="1.3" fill="#4b505e"/>
<circle cx="303.50" cy="387.70" r="1.3" fill="#4b505e"/>
<circle cx="305.20" cy="390.50" r="1.3" fill="#4b505e"/>
<circle cx="302.40" cy="392.80" r="1.3" fill="#4b505e"/>
<circle cx="303.50" cy="398.10" r="1.3" fill="#4b505e"/>
<rect x="312.80" y="379.70" width="9.90" height="26.40" fill="#ee9189"/>
<line x1="317.75" y1="383.00" x2="317.75" y2="377.30" stroke="#c6283c" stroke-width="0.65"/>
<line x1="315.25" y1="377.30" x2="320.25" y2="377.30" stroke="#c6283c" stroke-width="0.65"/>
<line x1="315.25" y1="383.00" x2="320.25" y2="383.00" stroke="#c6283c" stroke-width="0.65"/>
<circle cx="317.40" cy="369.30" r="1.3" fill="#c6283c"/>
<circle cx="315.10" cy="374.30" r="1.3" fill="#c6283c"/>
<circle cx="320.40" cy="377.30" r="1.3" fill="#c6283c"/>
<circle cx="313.90" cy="378.50" r="1.3" fill="#c6283c"/>
<circle cx="318.50" cy="380.30" r="1.3" fill="#c6283c"/>
<circle cx="320.90" cy="383.60" r="1.3" fill="#c6283c"/>
<circle cx="316.20" cy="386.60" r="1.3" fill="#c6283c"/>
<circle cx="317.40" cy="396.50" r="1.3" fill="#c6283c"/>
<circle cx="318.25" cy="398.10" r="1.3" fill="#c6283c"/>
<text x="265.4" y="418.8" font-size="6.8" fill="#3a3a3a" font-weight="normal" textLength="19.6" lengthAdjust="spacingAndGlyphs">control</text>
<text x="299.0" y="418.8" font-size="6.8" fill="#3a3a3a" font-weight="normal" textLength="23.3" lengthAdjust="spacingAndGlyphs">Poly(I:C)</text>
<text class="b" x="351.2" y="365.4" font-size="7.6" fill="#3a3a3a" textLength="11.5" lengthAdjust="spacingAndGlyphs">Mo</text>
<line x1="348.90" y1="358.10" x2="348.90" y2="407.60" stroke="#222" stroke-width="1.2"/>
<line x1="348.30" y1="407.00" x2="414.70" y2="407.00" stroke="#222" stroke-width="1.2"/>
<line x1="346.30" y1="407.00" x2="348.90" y2="407.00" stroke="#222" stroke-width="1.0"/>
<text x="338.60" y="409.4" font-size="6.6" fill="#444" textLength="3.40" lengthAdjust="spacingAndGlyphs">0</text>
<line x1="346.30" y1="395.43" x2="348.90" y2="395.43" stroke="#222" stroke-width="1.0"/>
<text x="331.80" y="397.8" font-size="6.6" fill="#444" textLength="10.20" lengthAdjust="spacingAndGlyphs">100</text>
<line x1="346.30" y1="383.85" x2="348.90" y2="383.85" stroke="#222" stroke-width="1.0"/>
<text x="331.80" y="386.2" font-size="6.6" fill="#444" textLength="10.20" lengthAdjust="spacingAndGlyphs">200</text>
<line x1="346.30" y1="372.27" x2="348.90" y2="372.27" stroke="#222" stroke-width="1.0"/>
<text x="331.80" y="374.7" font-size="6.6" fill="#444" textLength="10.20" lengthAdjust="spacingAndGlyphs">300</text>
<line x1="346.30" y1="360.70" x2="348.90" y2="360.70" stroke="#222" stroke-width="1.0"/>
<text x="331.80" y="363.1" font-size="6.6" fill="#444" textLength="10.20" lengthAdjust="spacingAndGlyphs">400</text>
<line x1="364.30" y1="407.00" x2="364.30" y2="409.20" stroke="#222" stroke-width="0.9"/>
<line x1="399.00" y1="407.00" x2="399.00" y2="409.20" stroke="#222" stroke-width="0.9"/>
<rect x="352.80" y="396.50" width="9.20" height="9.90" fill="#c7c9d1"/>
<line x1="357.40" y1="399.00" x2="357.40" y2="393.50" stroke="#4b505e" stroke-width="0.65"/>
<line x1="354.90" y1="393.50" x2="359.90" y2="393.50" stroke="#4b505e" stroke-width="0.65"/>
<line x1="354.90" y1="399.00" x2="359.90" y2="399.00" stroke="#4b505e" stroke-width="0.65"/>
<circle cx="355.80" cy="390.50" r="1.3" fill="#4b505e"/>
<circle cx="358.10" cy="391.90" r="1.3" fill="#4b505e"/>
<circle cx="354.60" cy="395.80" r="1.3" fill="#4b505e"/>
<circle cx="359.70" cy="396.50" r="1.3" fill="#4b505e"/>
<circle cx="357.00" cy="398.80" r="1.3" fill="#4b505e"/>
<circle cx="357.00" cy="401.60" r="1.3" fill="#4b505e"/>
<rect x="366.70" y="398.80" width="8.70" height="7.60" fill="#ee9189"/>
<line x1="371.05" y1="401.00" x2="371.05" y2="396.00" stroke="#c6283c" stroke-width="0.65"/>
<line x1="368.55" y1="396.00" x2="373.55" y2="396.00" stroke="#c6283c" stroke-width="0.65"/>
<line x1="368.55" y1="401.00" x2="373.55" y2="401.00" stroke="#c6283c" stroke-width="0.65"/>
<circle cx="370.80" cy="389.60" r="1.3" fill="#c6283c"/>
<circle cx="369.00" cy="394.20" r="1.3" fill="#c6283c"/>
<circle cx="372.70" cy="397.00" r="1.3" fill="#c6283c"/>
<circle cx="368.50" cy="398.80" r="1.3" fill="#c6283c"/>
<circle cx="373.10" cy="400.40" r="1.3" fill="#c6283c"/>
<circle cx="369.70" cy="402.10" r="1.3" fill="#c6283c"/>
<rect x="387.40" y="387.30" width="10.00" height="19.10" fill="#c7c9d1"/>
<line x1="392.40" y1="391.00" x2="392.40" y2="383.60" stroke="#4b505e" stroke-width="0.65"/>
<line x1="389.90" y1="383.60" x2="394.90" y2="383.60" stroke="#4b505e" stroke-width="0.65"/>
<line x1="389.90" y1="391.00" x2="394.90" y2="391.00" stroke="#4b505e" stroke-width="0.65"/>
<circle cx="392.70" cy="372.00" r="1.3" fill="#4b505e"/>
<circle cx="392.70" cy="374.30" r="1.3" fill="#4b505e"/>
<circle cx="392.70" cy="378.00" r="1.3" fill="#4b505e"/>
<circle cx="389.30" cy="386.60" r="1.3" fill="#4b505e"/>
<circle cx="395.80" cy="386.60" r="1.3" fill="#4b505e"/>
<circle cx="391.10" cy="391.20" r="1.3" fill="#4b505e"/>
<circle cx="395.10" cy="391.20" r="1.3" fill="#4b505e"/>
<circle cx="392.70" cy="397.40" r="1.3" fill="#4b505e"/>
<rect x="401.30" y="389.60" width="9.90" height="16.80" fill="#ee9189"/>
<line x1="406.25" y1="393.00" x2="406.25" y2="386.60" stroke="#c6283c" stroke-width="0.65"/>
<line x1="403.75" y1="386.60" x2="408.75" y2="386.60" stroke="#c6283c" stroke-width="0.65"/>
<line x1="403.75" y1="393.00" x2="408.75" y2="393.00" stroke="#c6283c" stroke-width="0.65"/>
<rect x="405.30" y="377.20" width="2.60" height="2.60" fill="#c6283c"/>
<rect x="401.80" y="384.10" width="2.60" height="2.60" fill="#c6283c"/>
<rect x="407.60" y="384.10" width="2.60" height="2.60" fill="#c6283c"/>
<rect x="403.70" y="389.20" width="2.60" height="2.60" fill="#c6283c"/>
<rect x="406.50" y="389.20" width="2.60" height="2.60" fill="#c6283c"/>
<rect x="403.00" y="395.70" width="2.60" height="2.60" fill="#c6283c"/>
<text x="354.2" y="418.8" font-size="6.8" fill="#3a3a3a" font-weight="normal" textLength="20.1" lengthAdjust="spacingAndGlyphs">control</text>
<text x="387.4" y="418.8" font-size="6.8" fill="#3a3a3a" font-weight="normal" textLength="22.5" lengthAdjust="spacingAndGlyphs">Poly(I:C)</text>
<circle cx="436.20" cy="380.00" r="1.45" fill="#4b505e"/>
<text x="441.0" y="382.3" font-size="6.35" fill="#3a3a3a"><tspan dy="0.0">F10</tspan><tspan font-size="3.68" dy="-3.3">fl/fl</tspan></text>
<rect x="434.75" y="388.05" width="2.90" height="2.90" fill="#a8385a"/>
<text x="441.0" y="391.8" font-size="6.35" fill="#3a3a3a"><tspan dy="0.0">F10</tspan><tspan font-size="3.68" dy="-3.3">fl/fl</tspan><tspan dy="3.3">LysM</tspan><tspan font-size="3.68" dy="-3.3">cre</tspan></text>
<text x="10.4" y="445.2" font-size="11" font-weight="bold" fill="#111" text-anchor="middle">F</text>
<text class="t" x="101.9" y="445.4" font-size="8.3" fill="#333" textLength="60.8" lengthAdjust="spacingAndGlyphs">fibrinogen matrix</text>
<text class="b" transform="translate(17.0,485.5) rotate(-90)" x="0" y="0" font-size="7.0" fill="#3a3a3a" text-anchor="middle" textLength="29.3" lengthAdjust="spacingAndGlyphs">Migration</text>
<text class="b" transform="translate(26.9,485.4) rotate(-90)" x="0" y="0" font-size="7.0" fill="#3a3a3a" text-anchor="middle" textLength="35.4" lengthAdjust="spacingAndGlyphs">% of control</text>
<text class="b" x="52.0" y="462.1" font-size="7.6" fill="#3a3a3a" textLength="6.5" lengthAdjust="spacingAndGlyphs">M</text>
<ellipse cx="62.00" cy="459.33" rx="2.45" ry="2.52" fill="none" stroke="#3a3a3a" stroke-width="0.85"/>
<line x1="62.00" y1="456.66" x2="62.00" y2="462.00" stroke="#3a3a3a" stroke-width="0.9"/>
<line x1="48.80" y1="461.60" x2="48.80" y2="510.70" stroke="#222" stroke-width="1.2"/>
<line x1="48.20" y1="510.10" x2="116.20" y2="510.10" stroke="#222" stroke-width="1.2"/>
<line x1="46.20" y1="510.10" x2="48.80" y2="510.10" stroke="#222" stroke-width="1.0"/>
<text x="39.80" y="512.5" font-size="6.6" fill="#444" textLength="3.40" lengthAdjust="spacingAndGlyphs">0</text>
<line x1="46.20" y1="498.62" x2="48.80" y2="498.62" stroke="#222" stroke-width="1.0"/>
<text x="33.00" y="501.0" font-size="6.6" fill="#444" textLength="10.20" lengthAdjust="spacingAndGlyphs">100</text>
<line x1="46.20" y1="487.15" x2="48.80" y2="487.15" stroke="#222" stroke-width="1.0"/>
<text x="33.00" y="489.5" font-size="6.6" fill="#444" textLength="10.20" lengthAdjust="spacingAndGlyphs">200</text>
<line x1="46.20" y1="475.68" x2="48.80" y2="475.68" stroke="#222" stroke-width="1.0"/>
<text x="33.00" y="478.1" font-size="6.6" fill="#444" textLength="10.20" lengthAdjust="spacingAndGlyphs">300</text>
<line x1="46.20" y1="464.20" x2="48.80" y2="464.20" stroke="#222" stroke-width="1.0"/>
<text x="33.00" y="466.6" font-size="6.6" fill="#444" textLength="10.20" lengthAdjust="spacingAndGlyphs">400</text>
<rect x="54.90" y="498.90" width="14.00" height="10.60" fill="#c7c9d1"/>
<line x1="61.90" y1="502.30" x2="61.90" y2="498.00" stroke="#4b505e" stroke-width="0.65"/>
<line x1="59.40" y1="498.00" x2="64.40" y2="498.00" stroke="#4b505e" stroke-width="0.65"/>
<line x1="59.40" y1="502.30" x2="64.40" y2="502.30" stroke="#4b505e" stroke-width="0.65"/>
<circle cx="55.40" cy="495.80" r="1.3" fill="#4b505e"/>
<circle cx="60.00" cy="495.80" r="1.3" fill="#4b505e"/>
<circle cx="62.30" cy="495.40" r="1.3" fill="#4b505e"/>
<circle cx="63.80" cy="495.40" r="1.3" fill="#4b505e"/>
<circle cx="67.70" cy="494.60" r="1.3" fill="#4b505e"/>
<circle cx="67.70" cy="499.50" r="1.3" fill="#4b505e"/>
<circle cx="60.80" cy="500.80" r="1.3" fill="#4b505e"/>
<circle cx="62.30" cy="505.10" r="1.3" fill="#4b505e"/>
<rect x="76.20" y="488.80" width="13.80" height="20.70" fill="#c7c9d1"/>
<line x1="83.10" y1="496.20" x2="83.10" y2="481.50" stroke="#4b505e" stroke-width="0.65"/>
<line x1="80.60" y1="481.50" x2="85.60" y2="481.50" stroke="#4b505e" stroke-width="0.65"/>
<line x1="80.60" y1="496.20" x2="85.60" y2="496.20" stroke="#4b505e" stroke-width="0.65"/>
<circle cx="83.10" cy="478.90" r="1.3" fill="#4b505e"/>
<circle cx="76.90" cy="485.40" r="1.3" fill="#4b505e"/>
<circle cx="82.80" cy="485.70" r="1.3" fill="#4b505e"/>
<circle cx="88.90" cy="486.60" r="1.3" fill="#4b505e"/>
<circle cx="82.80" cy="490.30" r="1.3" fill="#4b505e"/>
<circle cx="79.70" cy="499.50" r="1.3" fill="#4b505e"/>
<circle cx="85.80" cy="499.50" r="1.3" fill="#4b505e"/>
<rect x="96.90" y="501.00" width="13.60" height="8.50" fill="#c7c9d1"/>
<line x1="103.70" y1="505.40" x2="103.70" y2="496.50" stroke="#4b505e" stroke-width="0.65"/>
<line x1="101.20" y1="496.50" x2="106.20" y2="496.50" stroke="#4b505e" stroke-width="0.65"/>
<line x1="101.20" y1="505.40" x2="106.20" y2="505.40" stroke="#4b505e" stroke-width="0.65"/>
<circle cx="97.70" cy="496.50" r="1.3" fill="#4b505e"/>
<circle cx="109.20" cy="496.90" r="1.3" fill="#4b505e"/>
<circle cx="109.20" cy="502.30" r="1.3" fill="#4b505e"/>
<circle cx="103.40" cy="503.80" r="1.3" fill="#4b505e"/>
<circle cx="103.40" cy="508.50" r="1.3" fill="#4b505e"/>
<polyline points="61.80,475.40 61.80,472.30 81.80,472.30 81.80,475.40" fill="none" stroke="#4a4a4a" stroke-width="0.9"/>
<circle cx="71.80" cy="468.80" r="0.95" fill="#333"/>
<polyline points="83.80,475.40 83.80,472.30 103.80,472.30 103.80,475.40" fill="none" stroke="#4a4a4a" stroke-width="0.9"/>
<circle cx="92.50" cy="468.80" r="0.95" fill="#333"/>
<circle cx="95.10" cy="468.80" r="0.95" fill="#333"/>
<text x="19.6" y="522.2" font-size="6.6" fill="#3a3a3a" font-weight="normal" textLength="23.2" lengthAdjust="spacingAndGlyphs">Poly(I:C)</text>
<line x1="60.80" y1="519.80" x2="63.80" y2="519.80" stroke="#444" stroke-width="0.7"/>
<line x1="81.60" y1="519.80" x2="84.60" y2="519.80" stroke="#444" stroke-width="0.7"/>
<line x1="83.10" y1="518.30" x2="83.10" y2="521.30" stroke="#444" stroke-width="0.7"/>
<line x1="101.60" y1="519.80" x2="104.60" y2="519.80" stroke="#444" stroke-width="0.7"/>
<line x1="103.10" y1="518.30" x2="103.10" y2="521.30" stroke="#444" stroke-width="0.7"/>
<text x="21.5" y="532.2" font-size="6.6" fill="#3a3a3a" font-weight="normal" textLength="21.3" lengthAdjust="spacingAndGlyphs">AZ3451</text>
<line x1="60.80" y1="529.80" x2="63.80" y2="529.80" stroke="#444" stroke-width="0.7"/>
<line x1="81.60" y1="529.80" x2="84.60" y2="529.80" stroke="#444" stroke-width="0.7"/>
<line x1="101.60" y1="529.80" x2="104.60" y2="529.80" stroke="#444" stroke-width="0.7"/>
<line x1="103.10" y1="528.30" x2="103.10" y2="531.30" stroke="#444" stroke-width="0.7"/>
<text class="b" x="145.2" y="461.8" font-size="7.6" fill="#3a3a3a" textLength="11.8" lengthAdjust="spacingAndGlyphs">Mo</text>
<line x1="141.50" y1="461.20" x2="141.50" y2="510.80" stroke="#222" stroke-width="1.2"/>
<line x1="140.90" y1="510.20" x2="210.00" y2="510.20" stroke="#222" stroke-width="1.2"/>
<line x1="138.90" y1="510.20" x2="141.50" y2="510.20" stroke="#222" stroke-width="1.0"/>
<text x="133.80" y="512.6" font-size="6.6" fill="#444" textLength="3.40" lengthAdjust="spacingAndGlyphs">0</text>
<line x1="138.90" y1="494.73" x2="141.50" y2="494.73" stroke="#222" stroke-width="1.0"/>
<text x="127.00" y="497.1" font-size="6.6" fill="#444" textLength="10.20" lengthAdjust="spacingAndGlyphs">500</text>
<line x1="138.90" y1="479.27" x2="141.50" y2="479.27" stroke="#222" stroke-width="1.0"/>
<text x="123.60" y="481.6" font-size="6.6" fill="#444" textLength="13.60" lengthAdjust="spacingAndGlyphs">1000</text>
<line x1="138.90" y1="463.80" x2="141.50" y2="463.80" stroke="#222" stroke-width="1.0"/>
<text x="123.60" y="466.2" font-size="6.6" fill="#444" textLength="13.60" lengthAdjust="spacingAndGlyphs">1500</text>
<rect x="148.80" y="506.70" width="12.80" height="2.90" fill="#c7c9d1"/>
<circle cx="150.50" cy="505.50" r="1.3" fill="#4b505e"/>
<circle cx="152.50" cy="505.00" r="1.3" fill="#4b505e"/>
<circle cx="154.50" cy="505.50" r="1.3" fill="#4b505e"/>
<circle cx="156.50" cy="505.00" r="1.3" fill="#4b505e"/>
<circle cx="158.50" cy="505.50" r="1.3" fill="#4b505e"/>
<circle cx="160.00" cy="506.00" r="1.3" fill="#4b505e"/>
<circle cx="153.00" cy="507.50" r="1.3" fill="#4b505e"/>
<circle cx="157.00" cy="507.50" r="1.3" fill="#4b505e"/>
<rect x="168.90" y="498.10" width="12.80" height="11.50" fill="#c7c9d1"/>
<line x1="175.30" y1="509.00" x2="175.30" y2="486.60" stroke="#4b505e" stroke-width="0.65"/>
<line x1="172.80" y1="486.60" x2="177.80" y2="486.60" stroke="#4b505e" stroke-width="0.65"/>
<line x1="172.80" y1="509.00" x2="177.80" y2="509.00" stroke="#4b505e" stroke-width="0.65"/>
<circle cx="175.30" cy="479.30" r="1.3" fill="#4b505e"/>
<circle cx="175.30" cy="481.70" r="1.3" fill="#4b505e"/>
<circle cx="175.30" cy="483.90" r="1.3" fill="#4b505e"/>
<circle cx="175.30" cy="486.60" r="1.3" fill="#4b505e"/>
<circle cx="171.70" cy="504.90" r="1.3" fill="#4b505e"/>
<circle cx="174.40" cy="504.00" r="1.3" fill="#4b505e"/>
<circle cx="178.10" cy="503.10" r="1.3" fill="#4b505e"/>
<circle cx="180.80" cy="503.10" r="1.3" fill="#4b505e"/>
<circle cx="177.20" cy="505.80" r="1.3" fill="#4b505e"/>
<circle cx="175.30" cy="498.10" r="1.3" fill="#4b505e"/>
<rect x="189.00" y="507.60" width="13.40" height="2.00" fill="#c7c9d1"/>
<circle cx="190.70" cy="507.00" r="1.3" fill="#4b505e"/>
<circle cx="192.70" cy="506.50" r="1.3" fill="#4b505e"/>
<circle cx="194.70" cy="507.00" r="1.3" fill="#4b505e"/>
<circle cx="196.70" cy="506.50" r="1.3" fill="#4b505e"/>
<circle cx="198.70" cy="507.00" r="1.3" fill="#4b505e"/>
<circle cx="200.70" cy="507.30" r="1.3" fill="#4b505e"/>
<polyline points="154.30,475.60 154.30,472.50 174.40,472.50 174.40,475.60" fill="none" stroke="#4a4a4a" stroke-width="0.9"/>
<circle cx="164.35" cy="468.90" r="0.95" fill="#333"/>
<polyline points="176.20,475.60 176.20,472.50 196.40,472.50 196.40,475.60" fill="none" stroke="#4a4a4a" stroke-width="0.9"/>
<circle cx="186.30" cy="468.90" r="0.95" fill="#333"/>
<text x="130.0" y="522.2" font-size="6.6" fill="#3a3a3a" font-weight="normal" textLength="0.0" lengthAdjust="spacingAndGlyphs"></text>
<line x1="153.70" y1="519.80" x2="156.70" y2="519.80" stroke="#444" stroke-width="0.7"/>
<line x1="173.80" y1="519.80" x2="176.80" y2="519.80" stroke="#444" stroke-width="0.7"/>
<line x1="175.30" y1="518.30" x2="175.30" y2="521.30" stroke="#444" stroke-width="0.7"/>
<line x1="193.90" y1="519.80" x2="196.90" y2="519.80" stroke="#444" stroke-width="0.7"/>
<line x1="195.40" y1="518.30" x2="195.40" y2="521.30" stroke="#444" stroke-width="0.7"/>
<text x="130.0" y="532.2" font-size="6.6" fill="#3a3a3a" font-weight="normal" textLength="0.0" lengthAdjust="spacingAndGlyphs"></text>
<line x1="153.70" y1="529.80" x2="156.70" y2="529.80" stroke="#444" stroke-width="0.7"/>
<line x1="173.80" y1="529.80" x2="176.80" y2="529.80" stroke="#444" stroke-width="0.7"/>
<line x1="193.90" y1="529.80" x2="196.90" y2="529.80" stroke="#444" stroke-width="0.7"/>
<line x1="195.40" y1="528.30" x2="195.40" y2="531.30" stroke="#444" stroke-width="0.7"/>
<text x="224.4" y="444.8" font-size="11" font-weight="bold" fill="#111" text-anchor="middle">G</text>
<text class="t" x="309.5" y="445.6" font-size="8.3" fill="#333" textLength="60.5" lengthAdjust="spacingAndGlyphs">fibrinogen matrix</text>
<text class="b" transform="translate(226.4,485.1) rotate(-90)" x="0" y="0" font-size="7.0" fill="#3a3a3a" text-anchor="middle" textLength="29.5" lengthAdjust="spacingAndGlyphs">Migration</text>
<text class="b" transform="translate(236.9,485.3) rotate(-90)" x="0" y="0" font-size="7.0" fill="#3a3a3a" text-anchor="middle" textLength="35.6" lengthAdjust="spacingAndGlyphs">% of control</text>
<text class="b" x="262.0" y="462.0" font-size="7.6" fill="#3a3a3a" textLength="6.4" lengthAdjust="spacingAndGlyphs">M</text>
<ellipse cx="271.92" cy="459.23" rx="2.43" ry="2.52" fill="none" stroke="#3a3a3a" stroke-width="0.85"/>
<line x1="271.92" y1="456.56" x2="271.92" y2="461.90" stroke="#3a3a3a" stroke-width="0.9"/>
<line x1="258.90" y1="461.60" x2="258.90" y2="510.70" stroke="#222" stroke-width="1.2"/>
<line x1="258.30" y1="510.10" x2="322.30" y2="510.10" stroke="#222" stroke-width="1.2"/>
<line x1="256.30" y1="510.10" x2="258.90" y2="510.10" stroke="#222" stroke-width="1.0"/>
<text x="249.90" y="512.5" font-size="6.6" fill="#444" textLength="3.40" lengthAdjust="spacingAndGlyphs">0</text>
<line x1="256.30" y1="494.80" x2="258.90" y2="494.80" stroke="#222" stroke-width="1.0"/>
<text x="243.10" y="497.2" font-size="6.6" fill="#444" textLength="10.20" lengthAdjust="spacingAndGlyphs">200</text>
<line x1="256.30" y1="479.50" x2="258.90" y2="479.50" stroke="#222" stroke-width="1.0"/>
<text x="243.10" y="481.9" font-size="6.6" fill="#444" textLength="10.20" lengthAdjust="spacingAndGlyphs">400</text>
<line x1="256.30" y1="464.20" x2="258.90" y2="464.20" stroke="#222" stroke-width="1.0"/>
<text x="243.10" y="466.6" font-size="6.6" fill="#444" textLength="10.20" lengthAdjust="spacingAndGlyphs">600</text>
<rect x="264.20" y="502.30" width="10.40" height="7.20" fill="#c7c9d1"/>
<line x1="269.40" y1="506.90" x2="269.40" y2="498.90" stroke="#4b505e" stroke-width="0.65"/>
<line x1="266.90" y1="498.90" x2="271.90" y2="498.90" stroke="#4b505e" stroke-width="0.65"/>
<line x1="266.90" y1="506.90" x2="271.90" y2="506.90" stroke="#4b505e" stroke-width="0.65"/>
<circle cx="267.70" cy="498.90" r="1.3" fill="#4b505e"/>
<circle cx="271.50" cy="500.80" r="1.3" fill="#4b505e"/>
<circle cx="269.20" cy="506.20" r="1.3" fill="#4b505e"/>
<rect x="280.00" y="490.30" width="10.30" height="19.20" fill="#c7c9d1"/>
<line x1="285.15" y1="496.20" x2="285.15" y2="480.00" stroke="#4b505e" stroke-width="0.65"/>
<line x1="282.65" y1="480.00" x2="287.65" y2="480.00" stroke="#4b505e" stroke-width="0.65"/>
<line x1="282.65" y1="496.20" x2="287.65" y2="496.20" stroke="#4b505e" stroke-width="0.65"/>
<circle cx="285.15" cy="481.10" r="1.3" fill="#4b505e"/>
<circle cx="285.15" cy="487.70" r="1.3" fill="#4b505e"/>
<circle cx="283.15" cy="495.40" r="1.3" fill="#4b505e"/>
<circle cx="286.95" cy="495.40" r="1.3" fill="#4b505e"/>
<circle cx="285.45" cy="496.90" r="1.3" fill="#4b505e"/>
<rect x="296.20" y="503.80" width="9.50" height="5.70" fill="#c7c9d1"/>
<line x1="300.95" y1="506.00" x2="300.95" y2="500.50" stroke="#4b505e" stroke-width="0.65"/>
<line x1="298.45" y1="500.50" x2="303.45" y2="500.50" stroke="#4b505e" stroke-width="0.65"/>
<line x1="298.45" y1="506.00" x2="303.45" y2="506.00" stroke="#4b505e" stroke-width="0.65"/>
<circle cx="300.45" cy="500.50" r="1.3" fill="#4b505e"/>
<circle cx="298.85" cy="503.50" r="1.3" fill="#4b505e"/>
<circle cx="302.25" cy="504.20" r="1.3" fill="#4b505e"/>
<circle cx="300.45" cy="504.60" r="1.3" fill="#4b505e"/>
<rect x="311.50" y="503.00" width="10.00" height="6.50" fill="#c7c9d1"/>
<line x1="316.50" y1="507.20" x2="316.50" y2="498.90" stroke="#4b505e" stroke-width="0.65"/>
<line x1="314.00" y1="498.90" x2="319.00" y2="498.90" stroke="#4b505e" stroke-width="0.65"/>
<line x1="314.00" y1="507.20" x2="319.00" y2="507.20" stroke="#4b505e" stroke-width="0.65"/>
<circle cx="318.50" cy="498.90" r="1.3" fill="#4b505e"/>
<circle cx="317.70" cy="502.30" r="1.3" fill="#4b505e"/>
<circle cx="315.40" cy="507.20" r="1.3" fill="#4b505e"/>
<polyline points="268.50,477.40 268.50,473.80 283.50,473.80 283.50,477.40" fill="none" stroke="#4a4a4a" stroke-width="0.9"/>
<circle cx="276.00" cy="470.30" r="0.95" fill="#333"/>
<polyline points="285.70,477.40 285.70,473.80 301.00,473.80 301.00,477.40" fill="none" stroke="#4a4a4a" stroke-width="0.9"/>
<circle cx="293.35" cy="470.30" r="0.95" fill="#333"/>
<polyline points="284.20,465.00 284.20,461.50 317.00,461.50 317.00,465.00" fill="none" stroke="#4a4a4a" stroke-width="0.9"/>
<circle cx="300.60" cy="458.50" r="0.95" fill="#333"/>
<text x="229.6" y="522.2" font-size="6.6" fill="#3a3a3a" font-weight="normal" textLength="23.8" lengthAdjust="spacingAndGlyphs">Poly(I:C)</text>
<line x1="268.10" y1="519.80" x2="271.10" y2="519.80" stroke="#444" stroke-width="0.7"/>
<line x1="283.50" y1="519.80" x2="286.50" y2="519.80" stroke="#444" stroke-width="0.7"/>
<line x1="285.00" y1="518.30" x2="285.00" y2="521.30" stroke="#444" stroke-width="0.7"/>
<line x1="299.30" y1="519.80" x2="302.30" y2="519.80" stroke="#444" stroke-width="0.7"/>
<line x1="300.80" y1="518.30" x2="300.80" y2="521.30" stroke="#444" stroke-width="0.7"/>
<line x1="315.20" y1="519.80" x2="318.20" y2="519.80" stroke="#444" stroke-width="0.7"/>
<line x1="316.70" y1="518.30" x2="316.70" y2="521.30" stroke="#444" stroke-width="0.7"/>
<text x="229.0" y="532.1" font-size="6.6" fill="#3a3a3a" font-weight="normal" textLength="24.4" lengthAdjust="spacingAndGlyphs">TF21E10</text>
<line x1="268.10" y1="529.70" x2="271.10" y2="529.70" stroke="#444" stroke-width="0.7"/>
<line x1="283.50" y1="529.70" x2="286.50" y2="529.70" stroke="#444" stroke-width="0.7"/>
<line x1="299.30" y1="529.70" x2="302.30" y2="529.70" stroke="#444" stroke-width="0.7"/>
<line x1="300.80" y1="528.20" x2="300.80" y2="531.20" stroke="#444" stroke-width="0.7"/>
<line x1="315.20" y1="529.70" x2="318.20" y2="529.70" stroke="#444" stroke-width="0.7"/>
<text x="240.0" y="542.0" font-size="6.6" fill="#3a3a3a" font-weight="normal" textLength="13.4" lengthAdjust="spacingAndGlyphs">5L15</text>
<line x1="268.10" y1="539.60" x2="271.10" y2="539.60" stroke="#444" stroke-width="0.7"/>
<line x1="283.50" y1="539.60" x2="286.50" y2="539.60" stroke="#444" stroke-width="0.7"/>
<line x1="299.30" y1="539.60" x2="302.30" y2="539.60" stroke="#444" stroke-width="0.7"/>
<line x1="315.20" y1="539.60" x2="318.20" y2="539.60" stroke="#444" stroke-width="0.7"/>
<line x1="316.70" y1="538.10" x2="316.70" y2="541.10" stroke="#444" stroke-width="0.7"/>
<text class="b" x="351.7" y="462.4" font-size="7.6" fill="#3a3a3a" textLength="11.6" lengthAdjust="spacingAndGlyphs">Mo</text>
<line x1="348.80" y1="461.40" x2="348.80" y2="510.80" stroke="#222" stroke-width="1.2"/>
<line x1="348.20" y1="510.20" x2="415.20" y2="510.20" stroke="#222" stroke-width="1.2"/>
<line x1="346.20" y1="510.20" x2="348.80" y2="510.20" stroke="#222" stroke-width="1.0"/>
<text x="339.30" y="512.6" font-size="6.6" fill="#444" textLength="3.40" lengthAdjust="spacingAndGlyphs">0</text>
<line x1="346.20" y1="498.65" x2="348.80" y2="498.65" stroke="#222" stroke-width="1.0"/>
<text x="332.50" y="501.0" font-size="6.6" fill="#444" textLength="10.20" lengthAdjust="spacingAndGlyphs">200</text>
<line x1="346.20" y1="487.10" x2="348.80" y2="487.10" stroke="#222" stroke-width="1.0"/>
<text x="332.50" y="489.5" font-size="6.6" fill="#444" textLength="10.20" lengthAdjust="spacingAndGlyphs">400</text>
<line x1="346.20" y1="475.55" x2="348.80" y2="475.55" stroke="#222" stroke-width="1.0"/>
<text x="332.50" y="477.9" font-size="6.6" fill="#444" textLength="10.20" lengthAdjust="spacingAndGlyphs">600</text>
<line x1="346.20" y1="464.00" x2="348.80" y2="464.00" stroke="#222" stroke-width="1.0"/>
<text x="332.50" y="466.4" font-size="6.6" fill="#444" textLength="10.20" lengthAdjust="spacingAndGlyphs">800</text>
<rect x="353.00" y="501.90" width="10.30" height="7.70" fill="#c7c9d1"/>
<line x1="358.15" y1="506.30" x2="358.15" y2="497.30" stroke="#4b505e" stroke-width="0.65"/>
<line x1="355.65" y1="497.30" x2="360.65" y2="497.30" stroke="#4b505e" stroke-width="0.65"/>
<line x1="355.65" y1="506.30" x2="360.65" y2="506.30" stroke="#4b505e" stroke-width="0.65"/>
<circle cx="358.50" cy="497.30" r="1.3" fill="#4b505e"/>
<circle cx="358.50" cy="503.50" r="1.3" fill="#4b505e"/>
<circle cx="357.50" cy="505.40" r="1.3" fill="#4b505e"/>
<rect x="369.00" y="484.60" width="9.70" height="25.00" fill="#c7c9d1"/>
<line x1="373.85" y1="488.00" x2="373.85" y2="481.30" stroke="#4b505e" stroke-width="0.65"/>
<line x1="371.35" y1="481.30" x2="376.35" y2="481.30" stroke="#4b505e" stroke-width="0.65"/>
<line x1="371.35" y1="488.00" x2="376.35" y2="488.00" stroke="#4b505e" stroke-width="0.65"/>
<circle cx="375.80" cy="481.90" r="1.3" fill="#4b505e"/>
<circle cx="371.90" cy="483.80" r="1.3" fill="#4b505e"/>
<circle cx="374.80" cy="485.80" r="1.3" fill="#4b505e"/>
<circle cx="371.00" cy="487.10" r="1.3" fill="#4b505e"/>
<circle cx="373.80" cy="488.10" r="1.3" fill="#4b505e"/>
<rect x="384.40" y="500.00" width="10.20" height="9.60" fill="#c7c9d1"/>
<line x1="389.50" y1="505.40" x2="389.50" y2="494.80" stroke="#4b505e" stroke-width="0.65"/>
<line x1="387.00" y1="494.80" x2="392.00" y2="494.80" stroke="#4b505e" stroke-width="0.65"/>
<line x1="387.00" y1="505.40" x2="392.00" y2="505.40" stroke="#4b505e" stroke-width="0.65"/>
<circle cx="389.60" cy="493.50" r="1.3" fill="#4b505e"/>
<circle cx="387.30" cy="500.60" r="1.3" fill="#4b505e"/>
<circle cx="392.10" cy="501.20" r="1.3" fill="#4b505e"/>
<circle cx="389.60" cy="503.50" r="1.3" fill="#4b505e"/>
<rect x="400.40" y="499.20" width="10.00" height="10.40" fill="#c7c9d1"/>
<line x1="405.40" y1="506.00" x2="405.40" y2="491.00" stroke="#4b505e" stroke-width="0.65"/>
<line x1="402.90" y1="491.00" x2="407.90" y2="491.00" stroke="#4b505e" stroke-width="0.65"/>
<line x1="402.90" y1="506.00" x2="407.90" y2="506.00" stroke="#4b505e" stroke-width="0.65"/>
<circle cx="405.60" cy="487.70" r="1.3" fill="#4b505e"/>
<circle cx="402.70" cy="500.00" r="1.3" fill="#4b505e"/>
<circle cx="408.10" cy="500.00" r="1.3" fill="#4b505e"/>
<circle cx="404.60" cy="505.40" r="1.3" fill="#4b505e"/>
<polyline points="357.50,478.00 357.50,474.60 372.30,474.60 372.30,478.00" fill="none" stroke="#4a4a4a" stroke-width="0.9"/>
<circle cx="363.60" cy="471.20" r="0.95" fill="#333"/>
<circle cx="366.20" cy="471.20" r="0.95" fill="#333"/>
<polyline points="374.80,478.00 374.80,474.60 389.20,474.60 389.20,478.00" fill="none" stroke="#4a4a4a" stroke-width="0.9"/>
<circle cx="382.00" cy="471.20" r="0.95" fill="#333"/>
<polyline points="372.90,466.50 372.90,462.70 405.60,462.70 405.60,466.50" fill="none" stroke="#4a4a4a" stroke-width="0.9"/>
<circle cx="389.25" cy="459.20" r="0.95" fill="#333"/>
<text x="330.0" y="522.4" font-size="6.6" fill="#3a3a3a" font-weight="normal" textLength="0.0" lengthAdjust="spacingAndGlyphs"></text>
<line x1="356.70" y1="520.00" x2="359.70" y2="520.00" stroke="#444" stroke-width="0.7"/>
<line x1="372.20" y1="520.00" x2="375.20" y2="520.00" stroke="#444" stroke-width="0.7"/>
<line x1="373.70" y1="518.50" x2="373.70" y2="521.50" stroke="#444" stroke-width="0.7"/>
<line x1="388.30" y1="520.00" x2="391.30" y2="520.00" stroke="#444" stroke-width="0.7"/>
<line x1="389.80" y1="518.50" x2="389.80" y2="521.50" stroke="#444" stroke-width="0.7"/>
<line x1="403.90" y1="520.00" x2="406.90" y2="520.00" stroke="#444" stroke-width="0.7"/>
<line x1="405.40" y1="518.50" x2="405.40" y2="521.50" stroke="#444" stroke-width="0.7"/>
<text x="330.0" y="532.4" font-size="6.6" fill="#3a3a3a" font-weight="normal" textLength="0.0" lengthAdjust="spacingAndGlyphs"></text>
<line x1="356.70" y1="530.00" x2="359.70" y2="530.00" stroke="#444" stroke-width="0.7"/>
<line x1="372.20" y1="530.00" x2="375.20" y2="530.00" stroke="#444" stroke-width="0.7"/>
<line x1="388.30" y1="530.00" x2="391.30" y2="530.00" stroke="#444" stroke-width="0.7"/>
<line x1="389.80" y1="528.50" x2="389.80" y2="531.50" stroke="#444" stroke-width="0.7"/>
<line x1="403.90" y1="530.00" x2="406.90" y2="530.00" stroke="#444" stroke-width="0.7"/>
<text x="330.0" y="542.6" font-size="6.6" fill="#3a3a3a" font-weight="normal" textLength="0.0" lengthAdjust="spacingAndGlyphs"></text>
<line x1="356.70" y1="540.20" x2="359.70" y2="540.20" stroke="#444" stroke-width="0.7"/>
<line x1="372.20" y1="540.20" x2="375.20" y2="540.20" stroke="#444" stroke-width="0.7"/>
<line x1="388.30" y1="540.20" x2="391.30" y2="540.20" stroke="#444" stroke-width="0.7"/>
<line x1="403.90" y1="540.20" x2="406.90" y2="540.20" stroke="#444" stroke-width="0.7"/>
<line x1="405.40" y1="538.70" x2="405.40" y2="541.70" stroke="#444" stroke-width="0.7"/>
<text x="427.4" y="445.6" font-size="11" font-weight="bold" fill="#111" text-anchor="middle">H</text>
<text class="t" x="456.5" y="445.9" font-size="8.3" fill="#333" textLength="54.4" lengthAdjust="spacingAndGlyphs">exogenous FVII</text>
<text class="b" transform="translate(428.8,485.3) rotate(-90)" x="0" y="0" font-size="7.0" fill="#3a3a3a" text-anchor="middle" textLength="30.0" lengthAdjust="spacingAndGlyphs">Migration</text>
<text class="b" transform="translate(440.1,485.2) rotate(-90)" x="0" y="0" font-size="7.0" fill="#3a3a3a" text-anchor="middle" textLength="37.5" lengthAdjust="spacingAndGlyphs">fold increase</text>
<text class="b" x="456.0" y="462.1" font-size="7.6" fill="#3a3a3a" textLength="6.5" lengthAdjust="spacingAndGlyphs">M</text>
<ellipse cx="466.07" cy="459.33" rx="2.47" ry="2.52" fill="none" stroke="#3a3a3a" stroke-width="0.85"/>
<line x1="466.07" y1="456.66" x2="466.07" y2="462.00" stroke="#3a3a3a" stroke-width="0.9"/>
<line x1="453.60" y1="461.60" x2="453.60" y2="510.80" stroke="#222" stroke-width="1.2"/>
<line x1="453.00" y1="510.20" x2="513.10" y2="510.20" stroke="#222" stroke-width="1.2"/>
<line x1="451.00" y1="510.20" x2="453.60" y2="510.20" stroke="#222" stroke-width="1.0"/>
<text x="445.10" y="512.6" font-size="6.6" fill="#444" textLength="3.40" lengthAdjust="spacingAndGlyphs">0</text>
<line x1="451.00" y1="501.00" x2="453.60" y2="501.00" stroke="#222" stroke-width="1.0"/>
<text x="445.10" y="503.4" font-size="6.6" fill="#444" textLength="3.40" lengthAdjust="spacingAndGlyphs">1</text>
<line x1="451.00" y1="491.80" x2="453.60" y2="491.80" stroke="#222" stroke-width="1.0"/>
<text x="445.10" y="494.2" font-size="6.6" fill="#444" textLength="3.40" lengthAdjust="spacingAndGlyphs">2</text>
<line x1="451.00" y1="482.60" x2="453.60" y2="482.60" stroke="#222" stroke-width="1.0"/>
<text x="445.10" y="485.0" font-size="6.6" fill="#444" textLength="3.40" lengthAdjust="spacingAndGlyphs">3</text>
<line x1="451.00" y1="473.40" x2="453.60" y2="473.40" stroke="#222" stroke-width="1.0"/>
<text x="445.10" y="475.8" font-size="6.6" fill="#444" textLength="3.40" lengthAdjust="spacingAndGlyphs">4</text>
<line x1="451.00" y1="464.20" x2="453.60" y2="464.20" stroke="#222" stroke-width="1.0"/>
<text x="445.10" y="466.6" font-size="6.6" fill="#444" textLength="3.40" lengthAdjust="spacingAndGlyphs">5</text>
<line x1="468.40" y1="510.20" x2="468.40" y2="512.40" stroke="#222" stroke-width="0.9"/>
<line x1="498.80" y1="510.20" x2="498.80" y2="512.40" stroke="#222" stroke-width="0.9"/>
<rect x="457.50" y="490.20" width="8.30" height="19.40" fill="#c7c9d1"/>
<line x1="461.65" y1="493.70" x2="461.65" y2="486.40" stroke="#4b505e" stroke-width="0.65"/>
<line x1="459.15" y1="486.40" x2="464.15" y2="486.40" stroke="#4b505e" stroke-width="0.65"/>
<line x1="459.15" y1="493.70" x2="464.15" y2="493.70" stroke="#4b505e" stroke-width="0.65"/>
<circle cx="461.45" cy="479.60" r="1.3" fill="#4b505e"/>
<circle cx="461.45" cy="491.40" r="1.3" fill="#4b505e"/>
<circle cx="461.45" cy="496.10" r="1.3" fill="#4b505e"/>
<rect x="471.00" y="500.60" width="9.00" height="9.00" fill="#a276b0"/>
<line x1="475.50" y1="504.00" x2="475.50" y2="500.20" stroke="#5a2266" stroke-width="0.65"/>
<line x1="473.00" y1="500.20" x2="478.00" y2="500.20" stroke="#5a2266" stroke-width="0.65"/>
<line x1="473.00" y1="504.00" x2="478.00" y2="504.00" stroke="#5a2266" stroke-width="0.65"/>
<circle cx="475.20" cy="497.00" r="1.3" fill="#5a2266"/>
<circle cx="471.90" cy="502.00" r="1.3" fill="#5a2266"/>
<circle cx="475.50" cy="502.60" r="1.3" fill="#5a2266"/>
<circle cx="478.40" cy="502.00" r="1.3" fill="#5a2266"/>
<rect x="487.10" y="489.70" width="9.50" height="19.90" fill="#c7c9d1"/>
<line x1="491.85" y1="493.00" x2="491.85" y2="485.60" stroke="#4b505e" stroke-width="0.65"/>
<line x1="489.35" y1="485.60" x2="494.35" y2="485.60" stroke="#4b505e" stroke-width="0.65"/>
<line x1="489.35" y1="493.00" x2="494.35" y2="493.00" stroke="#4b505e" stroke-width="0.65"/>
<circle cx="491.85" cy="481.50" r="1.3" fill="#4b505e"/>
<circle cx="488.75" cy="488.10" r="1.3" fill="#4b505e"/>
<circle cx="492.50" cy="490.00" r="1.3" fill="#4b505e"/>
<circle cx="495.60" cy="490.00" r="1.3" fill="#4b505e"/>
<circle cx="488.75" cy="492.50" r="1.3" fill="#4b505e"/>
<rect x="501.30" y="500.40" width="9.40" height="9.20" fill="#a276b0"/>
<line x1="506.00" y1="503.00" x2="506.00" y2="499.00" stroke="#5a2266" stroke-width="0.65"/>
<line x1="503.50" y1="499.00" x2="508.50" y2="499.00" stroke="#5a2266" stroke-width="0.65"/>
<line x1="503.50" y1="503.00" x2="508.50" y2="503.00" stroke="#5a2266" stroke-width="0.65"/>
<circle cx="505.60" cy="494.40" r="1.3" fill="#5a2266"/>
<circle cx="503.10" cy="500.00" r="1.3" fill="#5a2266"/>
<circle cx="507.50" cy="500.00" r="1.3" fill="#5a2266"/>
<circle cx="505.00" cy="501.90" r="1.3" fill="#5a2266"/>
<polyline points="461.30,476.00 461.30,472.20 475.50,472.20 475.50,476.00" fill="none" stroke="#4a4a4a" stroke-width="0.9"/>
<circle cx="468.40" cy="468.90" r="0.95" fill="#333"/>
<polyline points="492.50,476.00 492.50,472.20 506.70,472.20 506.70,476.00" fill="none" stroke="#4a4a4a" stroke-width="0.9"/>
<circle cx="499.60" cy="468.90" r="0.95" fill="#333"/>
<text x="457.6" y="520.5" font-size="6.8" fill="#3a3a3a" font-weight="normal" textLength="21.7" lengthAdjust="spacingAndGlyphs">Poly(I:C)</text>
<text x="487.1" y="520.5" font-size="6.8" fill="#3a3a3a" font-weight="normal" textLength="22.5" lengthAdjust="spacingAndGlyphs">Poly(I:C)</text>
<text x="489.5" y="530.0" font-size="6.8" fill="#3a3a3a" font-weight="normal" textLength="19.5" lengthAdjust="spacingAndGlyphs">+mFVII</text>
<circle cx="455.20" cy="540.10" r="1.45" fill="#4b505e"/>
<text x="458.8" y="542.4" font-size="6.5" fill="#3a3a3a"><tspan dy="0.0">F7</tspan><tspan font-size="3.77" dy="-3.3">fl/fl</tspan></text>
<circle cx="477.00" cy="540.10" r="1.45" fill="#5a2266"/>
<text x="481.2" y="542.4" font-size="6.5" fill="#3a3a3a"><tspan dy="0.0">F7</tspan><tspan font-size="3.77" dy="-3.3">fl/fl</tspan><tspan dy="3.3">LysM</tspan><tspan font-size="3.77" dy="-3.3">cre</tspan></text>
</svg>
<div class="frame"></div>
</body></html>
